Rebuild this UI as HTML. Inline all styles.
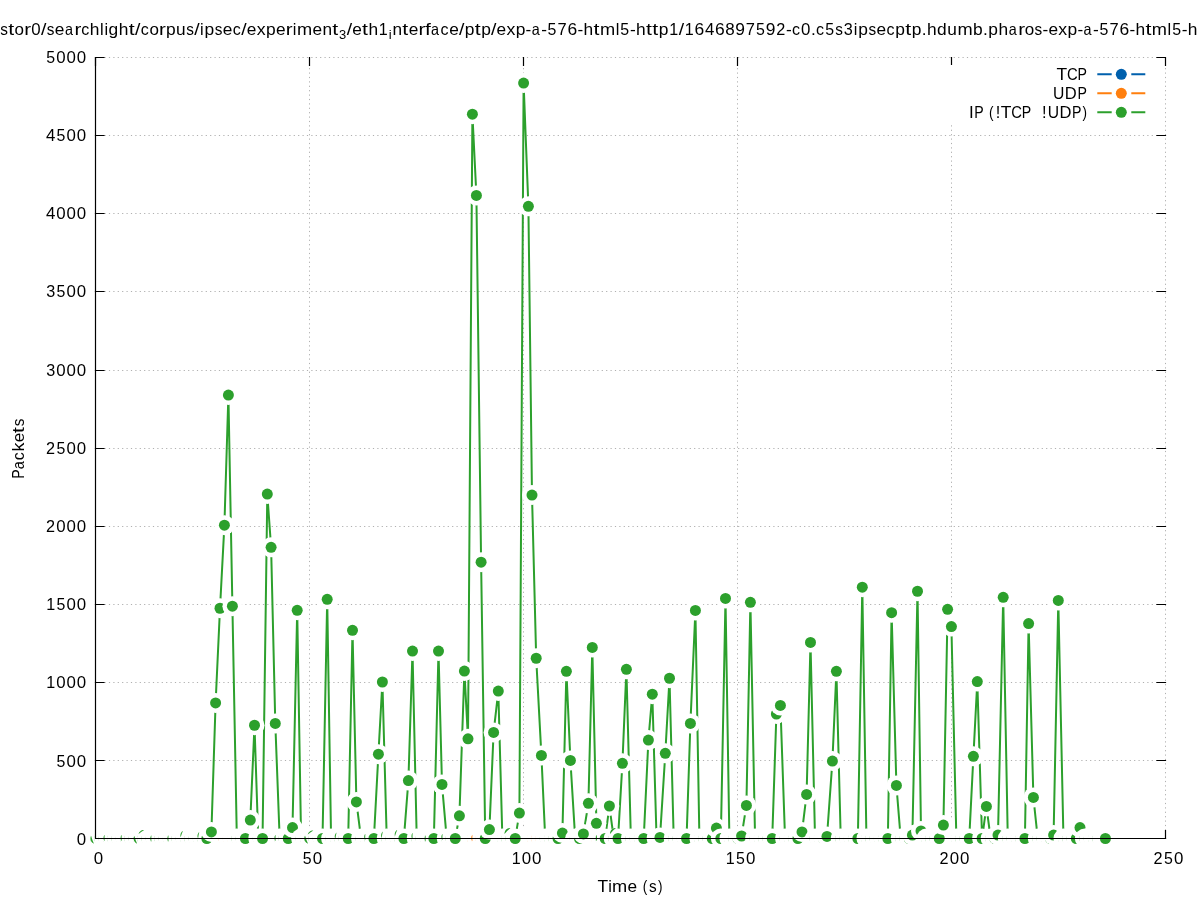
<!DOCTYPE html>
<html><head><meta charset="utf-8"><style>html,body{margin:0;padding:0;background:#fff;overflow:hidden}svg{display:block;will-change:transform}</style></head>
<body><svg width="1197" height="900" viewBox="0 0 1197 900">
<rect width="1197" height="900" fill="#fff"/>
<path d="M104.5,760.50H1165.5M104.5,682.50H1165.5M104.5,604.50H1165.5M104.5,526.50H1165.5M104.5,448.50H1165.5M104.5,370.50H1165.5M104.5,291.50H1165.5M104.5,213.50H1165.5M104.5,135.50H1165.5M104.5,57.50H1165.5M309.50,830.5V57.5M523.50,830.5V57.5M737.50,830.5V57.5M951.50,830.5V57.5M1165.50,830.5V57.5" stroke="#b0b0b0" stroke-width="1" stroke-dasharray="1.2,3.2" fill="none"/>
<path d="M95.5,838.50h8.5M1165.5,838.50h-8.5M95.5,760.50h8.5M1165.5,760.50h-8.5M95.5,682.50h8.5M1165.5,682.50h-8.5M95.5,604.50h8.5M1165.5,604.50h-8.5M95.5,526.50h8.5M1165.5,526.50h-8.5M95.5,448.50h8.5M1165.5,448.50h-8.5M95.5,370.50h8.5M1165.5,370.50h-8.5M95.5,291.50h8.5M1165.5,291.50h-8.5M95.5,213.50h8.5M1165.5,213.50h-8.5M95.5,135.50h8.5M1165.5,135.50h-8.5M95.5,57.50h8.5M1165.5,57.50h-8.5M95.50,838.5v-8M95.50,57.5v8M309.50,838.5v-8M309.50,57.5v8M523.50,838.5v-8M523.50,57.5v8M737.50,838.5v-8M737.50,57.5v8M951.50,838.5v-8M951.50,57.5v8M1165.50,838.5v-8M1165.50,57.5v8" stroke="#000" stroke-width="1.2" fill="none" stroke-linecap="square"/>
<circle cx="95.50" cy="838.50" r="10" fill="#fff"/><circle cx="95.50" cy="838.50" r="5.5" fill="#ff7f0e"/><circle cx="99.78" cy="838.50" r="10" fill="#fff"/><circle cx="99.78" cy="838.50" r="5.5" fill="#ff7f0e"/><circle cx="104.07" cy="838.50" r="10" fill="#fff"/><circle cx="104.07" cy="838.50" r="5.5" fill="#ff7f0e"/><circle cx="108.35" cy="838.50" r="10" fill="#fff"/><circle cx="108.35" cy="838.50" r="5.5" fill="#ff7f0e"/><circle cx="112.63" cy="838.50" r="10" fill="#fff"/><circle cx="112.63" cy="838.50" r="5.5" fill="#ff7f0e"/><circle cx="116.92" cy="838.50" r="10" fill="#fff"/><circle cx="116.92" cy="838.50" r="5.5" fill="#ff7f0e"/><circle cx="121.20" cy="838.50" r="10" fill="#fff"/><circle cx="121.20" cy="838.50" r="5.5" fill="#ff7f0e"/><circle cx="125.48" cy="838.50" r="10" fill="#fff"/><circle cx="125.48" cy="838.50" r="5.5" fill="#ff7f0e"/><circle cx="129.76" cy="838.50" r="10" fill="#fff"/><circle cx="129.76" cy="838.50" r="5.5" fill="#ff7f0e"/><circle cx="134.05" cy="838.50" r="10" fill="#fff"/><circle cx="134.05" cy="838.50" r="5.5" fill="#ff7f0e"/><circle cx="138.33" cy="838.50" r="10" fill="#fff"/><circle cx="138.33" cy="838.50" r="5.5" fill="#ff7f0e"/><circle cx="142.61" cy="838.50" r="10" fill="#fff"/><circle cx="142.61" cy="838.50" r="5.5" fill="#ff7f0e"/><circle cx="146.90" cy="838.50" r="10" fill="#fff"/><circle cx="146.90" cy="838.50" r="5.5" fill="#ff7f0e"/><circle cx="151.18" cy="838.50" r="10" fill="#fff"/><circle cx="151.18" cy="838.50" r="5.5" fill="#ff7f0e"/><circle cx="155.46" cy="838.50" r="10" fill="#fff"/><circle cx="155.46" cy="838.50" r="5.5" fill="#ff7f0e"/><circle cx="159.75" cy="838.50" r="10" fill="#fff"/><circle cx="159.75" cy="838.50" r="5.5" fill="#ff7f0e"/><circle cx="164.03" cy="838.50" r="10" fill="#fff"/><circle cx="164.03" cy="838.50" r="5.5" fill="#ff7f0e"/><circle cx="168.31" cy="838.50" r="10" fill="#fff"/><circle cx="168.31" cy="838.50" r="5.5" fill="#ff7f0e"/><circle cx="172.59" cy="838.50" r="10" fill="#fff"/><circle cx="172.59" cy="838.50" r="5.5" fill="#ff7f0e"/><circle cx="176.88" cy="838.50" r="10" fill="#fff"/><circle cx="176.88" cy="838.50" r="5.5" fill="#ff7f0e"/><circle cx="181.16" cy="838.50" r="10" fill="#fff"/><circle cx="181.16" cy="838.50" r="5.5" fill="#ff7f0e"/><circle cx="185.44" cy="838.50" r="10" fill="#fff"/><circle cx="185.44" cy="838.50" r="5.5" fill="#ff7f0e"/><circle cx="189.73" cy="838.50" r="10" fill="#fff"/><circle cx="189.73" cy="838.50" r="5.5" fill="#ff7f0e"/><circle cx="194.01" cy="838.50" r="10" fill="#fff"/><circle cx="194.01" cy="838.50" r="5.5" fill="#ff7f0e"/><circle cx="198.29" cy="838.50" r="10" fill="#fff"/><circle cx="198.29" cy="838.50" r="5.5" fill="#ff7f0e"/><circle cx="202.57" cy="838.50" r="10" fill="#fff"/><circle cx="202.57" cy="838.50" r="5.5" fill="#ff7f0e"/><circle cx="206.86" cy="838.50" r="10" fill="#fff"/><circle cx="206.86" cy="838.50" r="5.5" fill="#ff7f0e"/><circle cx="211.14" cy="838.50" r="10" fill="#fff"/><circle cx="211.14" cy="838.50" r="5.5" fill="#ff7f0e"/><circle cx="215.42" cy="838.50" r="10" fill="#fff"/><circle cx="215.42" cy="838.50" r="5.5" fill="#ff7f0e"/><circle cx="219.71" cy="838.50" r="10" fill="#fff"/><circle cx="219.71" cy="838.50" r="5.5" fill="#ff7f0e"/><circle cx="223.99" cy="838.50" r="10" fill="#fff"/><circle cx="223.99" cy="838.50" r="5.5" fill="#ff7f0e"/><circle cx="228.27" cy="838.50" r="10" fill="#fff"/><circle cx="228.27" cy="838.50" r="5.5" fill="#ff7f0e"/><circle cx="232.56" cy="838.50" r="10" fill="#fff"/><circle cx="232.56" cy="838.50" r="5.5" fill="#ff7f0e"/><circle cx="236.84" cy="838.50" r="10" fill="#fff"/><circle cx="236.84" cy="838.50" r="5.5" fill="#ff7f0e"/><circle cx="241.12" cy="838.50" r="10" fill="#fff"/><circle cx="241.12" cy="838.50" r="5.5" fill="#ff7f0e"/><circle cx="245.41" cy="838.50" r="10" fill="#fff"/><circle cx="245.41" cy="838.50" r="5.5" fill="#ff7f0e"/><circle cx="249.69" cy="838.50" r="10" fill="#fff"/><circle cx="249.69" cy="838.50" r="5.5" fill="#ff7f0e"/><circle cx="253.97" cy="838.50" r="10" fill="#fff"/><circle cx="253.97" cy="838.50" r="5.5" fill="#ff7f0e"/><circle cx="258.25" cy="838.50" r="10" fill="#fff"/><circle cx="258.25" cy="838.50" r="5.5" fill="#ff7f0e"/><circle cx="262.54" cy="838.50" r="10" fill="#fff"/><circle cx="262.54" cy="838.50" r="5.5" fill="#ff7f0e"/><circle cx="266.82" cy="838.50" r="10" fill="#fff"/><circle cx="266.82" cy="838.50" r="5.5" fill="#ff7f0e"/><circle cx="271.10" cy="838.50" r="10" fill="#fff"/><circle cx="271.10" cy="838.50" r="5.5" fill="#ff7f0e"/><circle cx="275.39" cy="838.50" r="10" fill="#fff"/><circle cx="275.39" cy="838.50" r="5.5" fill="#ff7f0e"/><circle cx="279.67" cy="838.50" r="10" fill="#fff"/><circle cx="279.67" cy="838.50" r="5.5" fill="#ff7f0e"/><circle cx="283.95" cy="838.50" r="10" fill="#fff"/><circle cx="283.95" cy="838.50" r="5.5" fill="#ff7f0e"/><circle cx="288.24" cy="838.50" r="10" fill="#fff"/><circle cx="288.24" cy="838.50" r="5.5" fill="#ff7f0e"/><circle cx="292.52" cy="838.50" r="10" fill="#fff"/><circle cx="292.52" cy="838.50" r="5.5" fill="#ff7f0e"/><circle cx="296.80" cy="838.50" r="10" fill="#fff"/><circle cx="296.80" cy="838.50" r="5.5" fill="#ff7f0e"/><circle cx="301.08" cy="838.50" r="10" fill="#fff"/><circle cx="301.08" cy="838.50" r="5.5" fill="#ff7f0e"/><circle cx="305.37" cy="838.50" r="10" fill="#fff"/><circle cx="305.37" cy="838.50" r="5.5" fill="#ff7f0e"/><circle cx="309.65" cy="838.50" r="10" fill="#fff"/><circle cx="309.65" cy="838.50" r="5.5" fill="#ff7f0e"/><circle cx="313.93" cy="838.50" r="10" fill="#fff"/><circle cx="313.93" cy="838.50" r="5.5" fill="#ff7f0e"/><circle cx="318.22" cy="838.50" r="10" fill="#fff"/><circle cx="318.22" cy="838.50" r="5.5" fill="#ff7f0e"/><circle cx="322.50" cy="838.50" r="10" fill="#fff"/><circle cx="322.50" cy="838.50" r="5.5" fill="#ff7f0e"/><circle cx="326.78" cy="838.50" r="10" fill="#fff"/><circle cx="326.78" cy="838.50" r="5.5" fill="#ff7f0e"/><circle cx="331.07" cy="838.50" r="10" fill="#fff"/><circle cx="331.07" cy="838.50" r="5.5" fill="#ff7f0e"/><circle cx="335.35" cy="838.50" r="10" fill="#fff"/><circle cx="335.35" cy="838.50" r="5.5" fill="#ff7f0e"/><circle cx="339.63" cy="838.50" r="10" fill="#fff"/><circle cx="339.63" cy="838.50" r="5.5" fill="#ff7f0e"/><circle cx="343.91" cy="838.50" r="10" fill="#fff"/><circle cx="343.91" cy="838.50" r="5.5" fill="#ff7f0e"/><circle cx="348.20" cy="838.50" r="10" fill="#fff"/><circle cx="348.20" cy="838.50" r="5.5" fill="#ff7f0e"/><circle cx="352.48" cy="838.50" r="10" fill="#fff"/><circle cx="352.48" cy="838.50" r="5.5" fill="#ff7f0e"/><circle cx="356.76" cy="838.50" r="10" fill="#fff"/><circle cx="356.76" cy="838.50" r="5.5" fill="#ff7f0e"/><circle cx="361.05" cy="838.50" r="10" fill="#fff"/><circle cx="361.05" cy="838.50" r="5.5" fill="#ff7f0e"/><circle cx="365.33" cy="838.50" r="10" fill="#fff"/><circle cx="365.33" cy="838.50" r="5.5" fill="#ff7f0e"/><circle cx="369.61" cy="838.50" r="10" fill="#fff"/><circle cx="369.61" cy="838.50" r="5.5" fill="#ff7f0e"/><circle cx="373.90" cy="838.50" r="10" fill="#fff"/><circle cx="373.90" cy="838.50" r="5.5" fill="#ff7f0e"/><circle cx="378.18" cy="838.50" r="10" fill="#fff"/><circle cx="378.18" cy="838.50" r="5.5" fill="#ff7f0e"/><circle cx="382.46" cy="838.50" r="10" fill="#fff"/><circle cx="382.46" cy="838.50" r="5.5" fill="#ff7f0e"/><circle cx="386.74" cy="838.50" r="10" fill="#fff"/><circle cx="386.74" cy="838.50" r="5.5" fill="#ff7f0e"/><circle cx="391.03" cy="838.50" r="10" fill="#fff"/><circle cx="391.03" cy="838.50" r="5.5" fill="#ff7f0e"/><circle cx="395.31" cy="838.50" r="10" fill="#fff"/><circle cx="395.31" cy="838.50" r="5.5" fill="#ff7f0e"/><circle cx="399.59" cy="838.50" r="10" fill="#fff"/><circle cx="399.59" cy="838.50" r="5.5" fill="#ff7f0e"/><circle cx="403.88" cy="838.50" r="10" fill="#fff"/><circle cx="403.88" cy="838.50" r="5.5" fill="#ff7f0e"/><circle cx="408.16" cy="838.50" r="10" fill="#fff"/><circle cx="408.16" cy="838.50" r="5.5" fill="#ff7f0e"/><circle cx="412.44" cy="838.50" r="10" fill="#fff"/><circle cx="412.44" cy="838.50" r="5.5" fill="#ff7f0e"/><circle cx="416.73" cy="838.50" r="10" fill="#fff"/><circle cx="416.73" cy="838.50" r="5.5" fill="#ff7f0e"/><circle cx="421.01" cy="838.50" r="10" fill="#fff"/><circle cx="421.01" cy="838.50" r="5.5" fill="#ff7f0e"/><circle cx="425.29" cy="838.50" r="10" fill="#fff"/><circle cx="425.29" cy="838.50" r="5.5" fill="#ff7f0e"/><circle cx="429.57" cy="838.50" r="10" fill="#fff"/><circle cx="429.57" cy="838.50" r="5.5" fill="#ff7f0e"/><circle cx="433.86" cy="838.50" r="10" fill="#fff"/><circle cx="433.86" cy="838.50" r="5.5" fill="#ff7f0e"/><circle cx="438.14" cy="838.50" r="10" fill="#fff"/><circle cx="438.14" cy="838.50" r="5.5" fill="#ff7f0e"/><circle cx="442.42" cy="838.50" r="10" fill="#fff"/><circle cx="442.42" cy="838.50" r="5.5" fill="#ff7f0e"/><circle cx="446.71" cy="838.50" r="10" fill="#fff"/><circle cx="446.71" cy="838.50" r="5.5" fill="#ff7f0e"/><circle cx="450.99" cy="838.50" r="10" fill="#fff"/><circle cx="450.99" cy="838.50" r="5.5" fill="#ff7f0e"/><circle cx="455.27" cy="838.50" r="10" fill="#fff"/><circle cx="455.27" cy="838.50" r="5.5" fill="#ff7f0e"/><circle cx="459.56" cy="838.50" r="10" fill="#fff"/><circle cx="459.56" cy="838.50" r="5.5" fill="#ff7f0e"/><circle cx="463.84" cy="838.50" r="10" fill="#fff"/><circle cx="463.84" cy="838.50" r="5.5" fill="#ff7f0e"/><circle cx="468.12" cy="838.50" r="10" fill="#fff"/><circle cx="468.12" cy="838.50" r="5.5" fill="#ff7f0e"/><circle cx="472.40" cy="838.50" r="10" fill="#fff"/><circle cx="472.40" cy="838.50" r="5.5" fill="#ff7f0e"/><circle cx="476.69" cy="838.50" r="10" fill="#fff"/><circle cx="476.69" cy="838.50" r="5.5" fill="#ff7f0e"/><circle cx="480.97" cy="838.50" r="10" fill="#fff"/><circle cx="480.97" cy="838.50" r="5.5" fill="#ff7f0e"/><circle cx="485.25" cy="838.50" r="10" fill="#fff"/><circle cx="485.25" cy="838.50" r="5.5" fill="#ff7f0e"/><circle cx="489.54" cy="838.50" r="10" fill="#fff"/><circle cx="489.54" cy="838.50" r="5.5" fill="#ff7f0e"/><circle cx="493.82" cy="838.50" r="10" fill="#fff"/><circle cx="493.82" cy="838.50" r="5.5" fill="#ff7f0e"/><circle cx="498.10" cy="838.50" r="10" fill="#fff"/><circle cx="498.10" cy="838.50" r="5.5" fill="#ff7f0e"/><circle cx="502.39" cy="838.50" r="10" fill="#fff"/><circle cx="502.39" cy="838.50" r="5.5" fill="#ff7f0e"/><circle cx="506.67" cy="838.50" r="10" fill="#fff"/><circle cx="506.67" cy="838.50" r="5.5" fill="#ff7f0e"/><circle cx="510.95" cy="838.50" r="10" fill="#fff"/><circle cx="510.95" cy="838.50" r="5.5" fill="#ff7f0e"/><circle cx="515.23" cy="838.50" r="10" fill="#fff"/><circle cx="515.23" cy="838.50" r="5.5" fill="#ff7f0e"/><circle cx="519.52" cy="838.50" r="10" fill="#fff"/><circle cx="519.52" cy="838.50" r="5.5" fill="#ff7f0e"/><circle cx="523.80" cy="838.50" r="10" fill="#fff"/><circle cx="523.80" cy="838.50" r="5.5" fill="#ff7f0e"/><circle cx="528.08" cy="838.50" r="10" fill="#fff"/><circle cx="528.08" cy="838.50" r="5.5" fill="#ff7f0e"/><circle cx="532.37" cy="838.50" r="10" fill="#fff"/><circle cx="532.37" cy="838.50" r="5.5" fill="#ff7f0e"/><circle cx="536.65" cy="838.50" r="10" fill="#fff"/><circle cx="536.65" cy="838.50" r="5.5" fill="#ff7f0e"/><circle cx="540.93" cy="838.50" r="10" fill="#fff"/><circle cx="540.93" cy="838.50" r="5.5" fill="#ff7f0e"/><circle cx="545.22" cy="838.50" r="10" fill="#fff"/><circle cx="545.22" cy="838.50" r="5.5" fill="#ff7f0e"/><circle cx="549.50" cy="838.50" r="10" fill="#fff"/><circle cx="549.50" cy="838.50" r="5.5" fill="#ff7f0e"/><circle cx="553.78" cy="838.50" r="10" fill="#fff"/><circle cx="553.78" cy="838.50" r="5.5" fill="#ff7f0e"/><circle cx="558.06" cy="838.50" r="10" fill="#fff"/><circle cx="558.06" cy="838.50" r="5.5" fill="#ff7f0e"/><circle cx="562.35" cy="838.50" r="10" fill="#fff"/><circle cx="562.35" cy="838.50" r="5.5" fill="#ff7f0e"/><circle cx="566.63" cy="838.50" r="10" fill="#fff"/><circle cx="566.63" cy="838.50" r="5.5" fill="#ff7f0e"/><circle cx="570.91" cy="838.50" r="10" fill="#fff"/><circle cx="570.91" cy="838.50" r="5.5" fill="#ff7f0e"/><circle cx="575.20" cy="838.50" r="10" fill="#fff"/><circle cx="575.20" cy="838.50" r="5.5" fill="#ff7f0e"/><circle cx="579.48" cy="838.50" r="10" fill="#fff"/><circle cx="579.48" cy="838.50" r="5.5" fill="#ff7f0e"/><circle cx="583.76" cy="838.50" r="10" fill="#fff"/><circle cx="583.76" cy="838.50" r="5.5" fill="#ff7f0e"/><circle cx="588.05" cy="838.50" r="10" fill="#fff"/><circle cx="588.05" cy="838.50" r="5.5" fill="#ff7f0e"/><circle cx="592.33" cy="838.50" r="10" fill="#fff"/><circle cx="592.33" cy="838.50" r="5.5" fill="#ff7f0e"/><circle cx="596.61" cy="838.50" r="10" fill="#fff"/><circle cx="596.61" cy="838.50" r="5.5" fill="#ff7f0e"/><circle cx="600.89" cy="838.50" r="10" fill="#fff"/><circle cx="600.89" cy="838.50" r="5.5" fill="#ff7f0e"/><circle cx="605.18" cy="838.50" r="10" fill="#fff"/><circle cx="605.18" cy="838.50" r="5.5" fill="#ff7f0e"/><circle cx="609.46" cy="838.50" r="10" fill="#fff"/><circle cx="609.46" cy="838.50" r="5.5" fill="#ff7f0e"/><circle cx="613.74" cy="838.50" r="10" fill="#fff"/><circle cx="613.74" cy="838.50" r="5.5" fill="#ff7f0e"/><circle cx="618.03" cy="838.50" r="10" fill="#fff"/><circle cx="618.03" cy="838.50" r="5.5" fill="#ff7f0e"/><circle cx="622.31" cy="838.50" r="10" fill="#fff"/><circle cx="622.31" cy="838.50" r="5.5" fill="#ff7f0e"/><circle cx="626.59" cy="838.50" r="10" fill="#fff"/><circle cx="626.59" cy="838.50" r="5.5" fill="#ff7f0e"/><circle cx="630.88" cy="838.50" r="10" fill="#fff"/><circle cx="630.88" cy="838.50" r="5.5" fill="#ff7f0e"/><circle cx="635.16" cy="838.50" r="10" fill="#fff"/><circle cx="635.16" cy="838.50" r="5.5" fill="#ff7f0e"/><circle cx="639.44" cy="838.50" r="10" fill="#fff"/><circle cx="639.44" cy="838.50" r="5.5" fill="#ff7f0e"/><circle cx="643.72" cy="838.50" r="10" fill="#fff"/><circle cx="643.72" cy="838.50" r="5.5" fill="#ff7f0e"/><circle cx="648.01" cy="838.50" r="10" fill="#fff"/><circle cx="648.01" cy="838.50" r="5.5" fill="#ff7f0e"/><circle cx="652.29" cy="838.50" r="10" fill="#fff"/><circle cx="652.29" cy="838.50" r="5.5" fill="#ff7f0e"/><circle cx="656.57" cy="838.50" r="10" fill="#fff"/><circle cx="656.57" cy="838.50" r="5.5" fill="#ff7f0e"/><circle cx="660.86" cy="838.50" r="10" fill="#fff"/><circle cx="660.86" cy="838.50" r="5.5" fill="#ff7f0e"/><circle cx="665.14" cy="838.50" r="10" fill="#fff"/><circle cx="665.14" cy="838.50" r="5.5" fill="#ff7f0e"/><circle cx="669.42" cy="838.50" r="10" fill="#fff"/><circle cx="669.42" cy="838.50" r="5.5" fill="#ff7f0e"/><circle cx="673.71" cy="838.50" r="10" fill="#fff"/><circle cx="673.71" cy="838.50" r="5.5" fill="#ff7f0e"/><circle cx="677.99" cy="838.50" r="10" fill="#fff"/><circle cx="677.99" cy="838.50" r="5.5" fill="#ff7f0e"/><circle cx="682.27" cy="838.50" r="10" fill="#fff"/><circle cx="682.27" cy="838.50" r="5.5" fill="#ff7f0e"/><circle cx="686.55" cy="838.50" r="10" fill="#fff"/><circle cx="686.55" cy="838.50" r="5.5" fill="#ff7f0e"/><circle cx="690.84" cy="838.50" r="10" fill="#fff"/><circle cx="690.84" cy="838.50" r="5.5" fill="#ff7f0e"/><circle cx="695.12" cy="838.50" r="10" fill="#fff"/><circle cx="695.12" cy="838.50" r="5.5" fill="#ff7f0e"/><circle cx="699.40" cy="838.50" r="10" fill="#fff"/><circle cx="699.40" cy="838.50" r="5.5" fill="#ff7f0e"/><circle cx="703.69" cy="838.50" r="10" fill="#fff"/><circle cx="703.69" cy="838.50" r="5.5" fill="#ff7f0e"/><circle cx="707.97" cy="838.50" r="10" fill="#fff"/><circle cx="707.97" cy="838.50" r="5.5" fill="#ff7f0e"/><circle cx="712.25" cy="838.50" r="10" fill="#fff"/><circle cx="712.25" cy="838.50" r="5.5" fill="#ff7f0e"/><circle cx="716.54" cy="838.50" r="10" fill="#fff"/><circle cx="716.54" cy="838.50" r="5.5" fill="#ff7f0e"/><circle cx="720.82" cy="838.50" r="10" fill="#fff"/><circle cx="720.82" cy="838.50" r="5.5" fill="#ff7f0e"/><circle cx="725.10" cy="838.50" r="10" fill="#fff"/><circle cx="725.10" cy="838.50" r="5.5" fill="#ff7f0e"/><circle cx="729.38" cy="838.50" r="10" fill="#fff"/><circle cx="729.38" cy="838.50" r="5.5" fill="#ff7f0e"/><circle cx="733.67" cy="838.50" r="10" fill="#fff"/><circle cx="733.67" cy="838.50" r="5.5" fill="#ff7f0e"/><circle cx="737.95" cy="838.50" r="10" fill="#fff"/><circle cx="737.95" cy="838.50" r="5.5" fill="#ff7f0e"/><circle cx="742.23" cy="838.50" r="10" fill="#fff"/><circle cx="742.23" cy="838.50" r="5.5" fill="#ff7f0e"/><circle cx="746.52" cy="838.50" r="10" fill="#fff"/><circle cx="746.52" cy="838.50" r="5.5" fill="#ff7f0e"/><circle cx="750.80" cy="838.50" r="10" fill="#fff"/><circle cx="750.80" cy="838.50" r="5.5" fill="#ff7f0e"/><circle cx="755.08" cy="838.50" r="10" fill="#fff"/><circle cx="755.08" cy="838.50" r="5.5" fill="#ff7f0e"/><circle cx="759.37" cy="838.50" r="10" fill="#fff"/><circle cx="759.37" cy="838.50" r="5.5" fill="#ff7f0e"/><circle cx="763.65" cy="838.50" r="10" fill="#fff"/><circle cx="763.65" cy="838.50" r="5.5" fill="#ff7f0e"/><circle cx="767.93" cy="838.50" r="10" fill="#fff"/><circle cx="767.93" cy="838.50" r="5.5" fill="#ff7f0e"/><circle cx="772.21" cy="838.50" r="10" fill="#fff"/><circle cx="772.21" cy="838.50" r="5.5" fill="#ff7f0e"/><circle cx="776.50" cy="838.50" r="10" fill="#fff"/><circle cx="776.50" cy="838.50" r="5.5" fill="#ff7f0e"/><circle cx="780.78" cy="838.50" r="10" fill="#fff"/><circle cx="780.78" cy="838.50" r="5.5" fill="#ff7f0e"/><circle cx="785.06" cy="838.50" r="10" fill="#fff"/><circle cx="785.06" cy="838.50" r="5.5" fill="#ff7f0e"/><circle cx="789.35" cy="838.50" r="10" fill="#fff"/><circle cx="789.35" cy="838.50" r="5.5" fill="#ff7f0e"/><circle cx="793.63" cy="838.50" r="10" fill="#fff"/><circle cx="793.63" cy="838.50" r="5.5" fill="#ff7f0e"/><circle cx="797.91" cy="838.50" r="10" fill="#fff"/><circle cx="797.91" cy="838.50" r="5.5" fill="#ff7f0e"/><circle cx="802.20" cy="838.50" r="10" fill="#fff"/><circle cx="802.20" cy="838.50" r="5.5" fill="#ff7f0e"/><circle cx="806.48" cy="838.50" r="10" fill="#fff"/><circle cx="806.48" cy="838.50" r="5.5" fill="#ff7f0e"/><circle cx="810.76" cy="838.50" r="10" fill="#fff"/><circle cx="810.76" cy="838.50" r="5.5" fill="#ff7f0e"/><circle cx="815.04" cy="838.50" r="10" fill="#fff"/><circle cx="815.04" cy="838.50" r="5.5" fill="#ff7f0e"/><circle cx="819.33" cy="838.50" r="10" fill="#fff"/><circle cx="819.33" cy="838.50" r="5.5" fill="#ff7f0e"/><circle cx="823.61" cy="838.50" r="10" fill="#fff"/><circle cx="823.61" cy="838.50" r="5.5" fill="#ff7f0e"/><circle cx="827.89" cy="838.50" r="10" fill="#fff"/><circle cx="827.89" cy="838.50" r="5.5" fill="#ff7f0e"/><circle cx="832.18" cy="838.50" r="10" fill="#fff"/><circle cx="832.18" cy="838.50" r="5.5" fill="#ff7f0e"/><circle cx="836.46" cy="838.50" r="10" fill="#fff"/><circle cx="836.46" cy="838.50" r="5.5" fill="#ff7f0e"/><circle cx="840.74" cy="838.50" r="10" fill="#fff"/><circle cx="840.74" cy="838.50" r="5.5" fill="#ff7f0e"/><circle cx="845.03" cy="838.50" r="10" fill="#fff"/><circle cx="845.03" cy="838.50" r="5.5" fill="#ff7f0e"/><circle cx="849.31" cy="838.50" r="10" fill="#fff"/><circle cx="849.31" cy="838.50" r="5.5" fill="#ff7f0e"/><circle cx="853.59" cy="838.50" r="10" fill="#fff"/><circle cx="853.59" cy="838.50" r="5.5" fill="#ff7f0e"/><circle cx="857.87" cy="838.50" r="10" fill="#fff"/><circle cx="857.87" cy="838.50" r="5.5" fill="#ff7f0e"/><circle cx="862.16" cy="838.50" r="10" fill="#fff"/><circle cx="862.16" cy="838.50" r="5.5" fill="#ff7f0e"/><circle cx="866.44" cy="838.50" r="10" fill="#fff"/><circle cx="866.44" cy="838.50" r="5.5" fill="#ff7f0e"/><circle cx="870.72" cy="838.50" r="10" fill="#fff"/><circle cx="870.72" cy="838.50" r="5.5" fill="#ff7f0e"/><circle cx="875.01" cy="838.50" r="10" fill="#fff"/><circle cx="875.01" cy="838.50" r="5.5" fill="#ff7f0e"/><circle cx="879.29" cy="838.50" r="10" fill="#fff"/><circle cx="879.29" cy="838.50" r="5.5" fill="#ff7f0e"/><circle cx="883.57" cy="838.50" r="10" fill="#fff"/><circle cx="883.57" cy="838.50" r="5.5" fill="#ff7f0e"/><circle cx="887.86" cy="838.50" r="10" fill="#fff"/><circle cx="887.86" cy="838.50" r="5.5" fill="#ff7f0e"/><circle cx="892.14" cy="838.50" r="10" fill="#fff"/><circle cx="892.14" cy="838.50" r="5.5" fill="#ff7f0e"/><circle cx="896.42" cy="838.50" r="10" fill="#fff"/><circle cx="896.42" cy="838.50" r="5.5" fill="#ff7f0e"/><circle cx="900.70" cy="838.50" r="10" fill="#fff"/><circle cx="900.70" cy="838.50" r="5.5" fill="#ff7f0e"/><circle cx="904.99" cy="838.50" r="10" fill="#fff"/><circle cx="904.99" cy="838.50" r="5.5" fill="#ff7f0e"/><circle cx="909.27" cy="838.50" r="10" fill="#fff"/><circle cx="909.27" cy="838.50" r="5.5" fill="#ff7f0e"/><circle cx="913.55" cy="838.50" r="10" fill="#fff"/><circle cx="913.55" cy="838.50" r="5.5" fill="#ff7f0e"/><circle cx="917.84" cy="838.50" r="10" fill="#fff"/><circle cx="917.84" cy="838.50" r="5.5" fill="#ff7f0e"/><circle cx="922.12" cy="838.50" r="10" fill="#fff"/><circle cx="922.12" cy="838.50" r="5.5" fill="#ff7f0e"/><circle cx="926.40" cy="838.50" r="10" fill="#fff"/><circle cx="926.40" cy="838.50" r="5.5" fill="#ff7f0e"/><circle cx="930.69" cy="838.50" r="10" fill="#fff"/><circle cx="930.69" cy="838.50" r="5.5" fill="#ff7f0e"/><circle cx="934.97" cy="838.50" r="10" fill="#fff"/><circle cx="934.97" cy="838.50" r="5.5" fill="#ff7f0e"/><circle cx="939.25" cy="838.50" r="10" fill="#fff"/><circle cx="939.25" cy="838.50" r="5.5" fill="#ff7f0e"/><circle cx="943.53" cy="838.50" r="10" fill="#fff"/><circle cx="943.53" cy="838.50" r="5.5" fill="#ff7f0e"/><circle cx="947.82" cy="838.50" r="10" fill="#fff"/><circle cx="947.82" cy="838.50" r="5.5" fill="#ff7f0e"/><circle cx="952.10" cy="838.50" r="10" fill="#fff"/><circle cx="952.10" cy="838.50" r="5.5" fill="#ff7f0e"/><circle cx="956.38" cy="838.50" r="10" fill="#fff"/><circle cx="956.38" cy="838.50" r="5.5" fill="#ff7f0e"/><circle cx="960.67" cy="838.50" r="10" fill="#fff"/><circle cx="960.67" cy="838.50" r="5.5" fill="#ff7f0e"/><circle cx="964.95" cy="838.50" r="10" fill="#fff"/><circle cx="964.95" cy="838.50" r="5.5" fill="#ff7f0e"/><circle cx="969.23" cy="838.50" r="10" fill="#fff"/><circle cx="969.23" cy="838.50" r="5.5" fill="#ff7f0e"/><circle cx="973.52" cy="838.50" r="10" fill="#fff"/><circle cx="973.52" cy="838.50" r="5.5" fill="#ff7f0e"/><circle cx="977.80" cy="838.50" r="10" fill="#fff"/><circle cx="977.80" cy="838.50" r="5.5" fill="#ff7f0e"/><circle cx="982.08" cy="838.50" r="10" fill="#fff"/><circle cx="982.08" cy="838.50" r="5.5" fill="#ff7f0e"/><circle cx="986.36" cy="838.50" r="10" fill="#fff"/><circle cx="986.36" cy="838.50" r="5.5" fill="#ff7f0e"/><circle cx="990.65" cy="838.50" r="10" fill="#fff"/><circle cx="990.65" cy="838.50" r="5.5" fill="#ff7f0e"/><circle cx="994.93" cy="838.50" r="10" fill="#fff"/><circle cx="994.93" cy="838.50" r="5.5" fill="#ff7f0e"/><circle cx="999.21" cy="838.50" r="10" fill="#fff"/><circle cx="999.21" cy="838.50" r="5.5" fill="#ff7f0e"/><circle cx="1003.50" cy="838.50" r="10" fill="#fff"/><circle cx="1003.50" cy="838.50" r="5.5" fill="#ff7f0e"/><circle cx="1007.78" cy="838.50" r="10" fill="#fff"/><circle cx="1007.78" cy="838.50" r="5.5" fill="#ff7f0e"/><circle cx="1012.06" cy="838.50" r="10" fill="#fff"/><circle cx="1012.06" cy="838.50" r="5.5" fill="#ff7f0e"/><circle cx="1016.35" cy="838.50" r="10" fill="#fff"/><circle cx="1016.35" cy="838.50" r="5.5" fill="#ff7f0e"/><circle cx="1020.63" cy="838.50" r="10" fill="#fff"/><circle cx="1020.63" cy="838.50" r="5.5" fill="#ff7f0e"/><circle cx="1024.91" cy="838.50" r="10" fill="#fff"/><circle cx="1024.91" cy="838.50" r="5.5" fill="#ff7f0e"/><circle cx="1029.19" cy="838.50" r="10" fill="#fff"/><circle cx="1029.19" cy="838.50" r="5.5" fill="#ff7f0e"/><circle cx="1033.48" cy="838.50" r="10" fill="#fff"/><circle cx="1033.48" cy="838.50" r="5.5" fill="#ff7f0e"/><circle cx="1037.76" cy="838.50" r="10" fill="#fff"/><circle cx="1037.76" cy="838.50" r="5.5" fill="#ff7f0e"/><circle cx="1042.04" cy="838.50" r="10" fill="#fff"/><circle cx="1042.04" cy="838.50" r="5.5" fill="#ff7f0e"/><circle cx="1046.33" cy="838.50" r="10" fill="#fff"/><circle cx="1046.33" cy="838.50" r="5.5" fill="#ff7f0e"/><circle cx="1050.61" cy="838.50" r="10" fill="#fff"/><circle cx="1050.61" cy="838.50" r="5.5" fill="#ff7f0e"/><circle cx="1054.89" cy="838.50" r="10" fill="#fff"/><circle cx="1054.89" cy="838.50" r="5.5" fill="#ff7f0e"/><circle cx="1059.18" cy="838.50" r="10" fill="#fff"/><circle cx="1059.18" cy="838.50" r="5.5" fill="#ff7f0e"/><circle cx="1063.46" cy="838.50" r="10" fill="#fff"/><circle cx="1063.46" cy="838.50" r="5.5" fill="#ff7f0e"/><circle cx="1067.74" cy="838.50" r="10" fill="#fff"/><circle cx="1067.74" cy="838.50" r="5.5" fill="#ff7f0e"/><circle cx="1072.02" cy="838.50" r="10" fill="#fff"/><circle cx="1072.02" cy="838.50" r="5.5" fill="#ff7f0e"/><circle cx="1076.31" cy="838.50" r="10" fill="#fff"/><circle cx="1076.31" cy="838.50" r="5.5" fill="#ff7f0e"/><circle cx="1080.59" cy="838.50" r="10" fill="#fff"/><circle cx="1080.59" cy="838.50" r="5.5" fill="#ff7f0e"/><circle cx="1084.87" cy="838.50" r="10" fill="#fff"/><circle cx="1084.87" cy="838.50" r="5.5" fill="#ff7f0e"/><circle cx="1089.16" cy="838.50" r="10" fill="#fff"/><circle cx="1089.16" cy="838.50" r="5.5" fill="#ff7f0e"/><circle cx="1093.44" cy="838.50" r="10" fill="#fff"/><circle cx="1093.44" cy="838.50" r="5.5" fill="#ff7f0e"/><circle cx="1097.72" cy="838.50" r="10" fill="#fff"/><circle cx="1097.72" cy="838.50" r="5.5" fill="#ff7f0e"/><circle cx="1102.01" cy="838.50" r="10" fill="#fff"/><circle cx="1102.01" cy="838.50" r="5.5" fill="#ff7f0e"/><circle cx="1106.29" cy="838.50" r="10" fill="#fff"/><circle cx="1106.29" cy="838.50" r="5.5" fill="#ff7f0e"/>
<path d="M95.50,838.50 L99.78,838.50 L104.07,838.50 L108.35,838.50 L112.63,838.50 L116.92,838.50 L121.20,838.50 L125.48,838.50 L129.76,838.50 L134.05,838.50 L138.33,838.50 L142.61,838.50 L146.90,838.50 L151.18,838.50 L155.46,838.50 L159.75,838.50 L164.03,838.50 L168.31,838.50 L172.59,838.50 L176.88,838.50 L181.16,838.50 L185.44,838.50 L189.73,838.50 L194.01,838.50 L198.29,838.50 L202.57,838.50 L206.86,838.50 L211.40,831.94 L215.60,702.92 L220.00,608.26 L224.40,525.16 L228.40,395.05 L232.40,606.23 L236.84,838.50 L241.12,838.50 L245.41,838.50 L250.30,820.07 L254.50,725.25 L258.25,838.50 L262.54,838.50 L267.30,494.08 L271.10,547.34 L275.30,723.38 L279.67,838.50 L283.95,838.50 L288.24,838.50 L292.50,827.57 L297.20,610.29 L301.08,838.50 L305.37,838.50 L309.65,838.50 L313.93,838.50 L318.22,838.50 L322.50,838.50 L327.20,599.36 L331.07,838.50 L335.35,838.50 L339.63,838.50 L343.91,838.50 L348.20,838.50 L352.50,630.29 L356.40,801.95 L361.05,838.50 L365.33,838.50 L369.61,838.50 L373.90,838.50 L378.40,754.15 L382.40,681.99 L386.74,838.50 L391.03,838.50 L395.31,838.50 L399.59,838.50 L403.88,838.50 L408.40,780.55 L412.50,651.06 L416.73,838.50 L421.01,838.50 L425.29,838.50 L429.57,838.50 L433.86,838.50 L438.50,651.06 L442.00,784.45 L446.71,838.50 L450.99,838.50 L455.27,838.50 L459.40,815.85 L464.40,671.05 L468.00,738.84 L472.40,114.20 L476.40,195.42 L481.10,562.18 L485.25,838.50 L489.40,829.60 L493.60,732.44 L498.30,691.05 L502.39,838.50 L506.67,838.50 L510.95,838.50 L515.23,838.50 L519.40,813.04 L523.60,83.12 L528.40,206.36 L532.00,495.02 L536.20,658.25 L541.40,755.40 L545.22,838.50 L549.50,838.50 L553.78,838.50 L558.06,838.50 L562.40,833.03 L566.40,671.37 L570.40,760.40 L575.20,838.50 L579.48,838.50 L583.40,833.97 L588.40,803.36 L592.30,647.47 L596.40,823.35 L600.89,838.50 L605.18,838.50 L609.40,806.01 L613.74,838.50 L618.03,838.50 L622.40,763.37 L626.40,669.34 L630.88,838.50 L635.16,838.50 L639.44,838.50 L643.72,838.50 L648.40,740.09 L652.30,694.17 L656.57,838.50 L660.00,837.41 L665.30,753.37 L669.50,678.24 L673.71,838.50 L677.99,838.50 L682.27,838.50 L686.55,838.50 L690.40,723.38 L695.40,610.45 L699.40,838.50 L703.69,838.50 L707.97,838.50 L712.25,838.50 L716.40,828.03 L720.82,838.50 L725.50,598.42 L729.38,838.50 L733.67,838.50 L737.95,838.50 L741.60,836.00 L746.40,805.39 L750.40,602.33 L755.08,838.50 L759.37,838.50 L763.65,838.50 L767.93,838.50 L772.21,838.50 L776.40,714.01 L780.40,705.42 L785.06,838.50 L789.35,838.50 L793.63,838.50 L797.91,838.50 L802.00,831.94 L806.60,794.45 L810.50,642.47 L815.04,838.50 L819.33,838.50 L823.61,838.50 L827.00,836.47 L832.40,761.02 L836.40,671.37 L840.74,838.50 L845.03,838.50 L849.31,838.50 L853.59,838.50 L857.87,838.50 L862.30,587.17 L866.44,838.50 L870.72,838.50 L875.01,838.50 L879.29,838.50 L883.57,838.50 L887.86,838.50 L891.60,612.63 L896.40,785.39 L900.70,838.50 L904.99,838.50 L909.27,838.50 L912.40,835.06 L917.50,591.24 L921.00,831.00 L926.40,838.50 L930.69,838.50 L934.97,838.50 L939.25,838.50 L943.40,825.07 L947.60,609.35 L951.40,626.54 L956.38,838.50 L960.67,838.50 L964.95,838.50 L969.23,838.50 L973.40,756.34 L977.30,681.52 L982.08,838.50 L986.40,806.48 L990.65,838.50 L994.93,838.50 L998.00,835.06 L1003.20,597.33 L1007.78,838.50 L1012.06,838.50 L1016.35,838.50 L1020.63,838.50 L1024.91,838.50 L1028.60,623.57 L1033.40,797.42 L1037.76,838.50 L1042.04,838.50 L1046.33,838.50 L1050.61,838.50 L1053.60,835.06 L1058.30,600.45 L1063.46,838.50 L1067.74,838.50 L1072.02,838.50 L1076.31,838.50 L1080.00,827.57 L1084.87,838.50 L1089.16,838.50 L1093.44,838.50 L1097.72,838.50 L1102.01,838.50 L1105.40,838.50" stroke="#2ca02c" stroke-width="2" fill="none" stroke-linejoin="miter"/>
<circle cx="95.50" cy="838.50" r="10" fill="#fff"/><circle cx="95.50" cy="838.50" r="5.5" fill="#2ca02c"/>
<circle cx="99.78" cy="838.50" r="10" fill="#fff"/><circle cx="99.78" cy="838.50" r="5.5" fill="#2ca02c"/>
<circle cx="104.07" cy="838.50" r="10" fill="#fff"/><circle cx="104.07" cy="838.50" r="5.5" fill="#2ca02c"/>
<circle cx="108.35" cy="838.50" r="10" fill="#fff"/><circle cx="108.35" cy="838.50" r="5.5" fill="#2ca02c"/>
<circle cx="112.63" cy="838.50" r="10" fill="#fff"/><circle cx="112.63" cy="838.50" r="5.5" fill="#2ca02c"/>
<circle cx="116.92" cy="838.50" r="10" fill="#fff"/><circle cx="116.92" cy="838.50" r="5.5" fill="#2ca02c"/>
<circle cx="121.20" cy="838.50" r="10" fill="#fff"/><circle cx="121.20" cy="838.50" r="5.5" fill="#2ca02c"/>
<circle cx="125.48" cy="838.50" r="10" fill="#fff"/><circle cx="125.48" cy="838.50" r="5.5" fill="#2ca02c"/>
<circle cx="129.76" cy="838.50" r="10" fill="#fff"/><circle cx="129.76" cy="838.50" r="5.5" fill="#2ca02c"/>
<circle cx="134.05" cy="838.50" r="10" fill="#fff"/><circle cx="134.05" cy="838.50" r="5.5" fill="#2ca02c"/>
<circle cx="138.33" cy="838.50" r="10" fill="#fff"/><circle cx="138.33" cy="838.50" r="5.5" fill="#2ca02c"/>
<circle cx="142.61" cy="838.50" r="10" fill="#fff"/><circle cx="142.61" cy="838.50" r="5.5" fill="#2ca02c"/>
<circle cx="146.90" cy="838.50" r="10" fill="#fff"/><circle cx="146.90" cy="838.50" r="5.5" fill="#2ca02c"/>
<circle cx="151.18" cy="838.50" r="10" fill="#fff"/><circle cx="151.18" cy="838.50" r="5.5" fill="#2ca02c"/>
<circle cx="155.46" cy="838.50" r="10" fill="#fff"/><circle cx="155.46" cy="838.50" r="5.5" fill="#2ca02c"/>
<circle cx="159.75" cy="838.50" r="10" fill="#fff"/><circle cx="159.75" cy="838.50" r="5.5" fill="#2ca02c"/>
<circle cx="164.03" cy="838.50" r="10" fill="#fff"/><circle cx="164.03" cy="838.50" r="5.5" fill="#2ca02c"/>
<circle cx="168.31" cy="838.50" r="10" fill="#fff"/><circle cx="168.31" cy="838.50" r="5.5" fill="#2ca02c"/>
<circle cx="172.59" cy="838.50" r="10" fill="#fff"/><circle cx="172.59" cy="838.50" r="5.5" fill="#2ca02c"/>
<circle cx="176.88" cy="838.50" r="10" fill="#fff"/><circle cx="176.88" cy="838.50" r="5.5" fill="#2ca02c"/>
<circle cx="181.16" cy="838.50" r="10" fill="#fff"/><circle cx="181.16" cy="838.50" r="5.5" fill="#2ca02c"/>
<circle cx="185.44" cy="838.50" r="10" fill="#fff"/><circle cx="185.44" cy="838.50" r="5.5" fill="#2ca02c"/>
<circle cx="189.73" cy="838.50" r="10" fill="#fff"/><circle cx="189.73" cy="838.50" r="5.5" fill="#2ca02c"/>
<circle cx="194.01" cy="838.50" r="10" fill="#fff"/><circle cx="194.01" cy="838.50" r="5.5" fill="#2ca02c"/>
<circle cx="198.29" cy="838.50" r="10" fill="#fff"/><circle cx="198.29" cy="838.50" r="5.5" fill="#2ca02c"/>
<circle cx="202.57" cy="838.50" r="10" fill="#fff"/><circle cx="202.57" cy="838.50" r="5.5" fill="#2ca02c"/>
<circle cx="206.86" cy="838.50" r="10" fill="#fff"/><circle cx="206.86" cy="838.50" r="5.5" fill="#2ca02c"/>
<circle cx="211.40" cy="831.94" r="10" fill="#fff"/><circle cx="211.40" cy="831.94" r="5.5" fill="#2ca02c"/>
<circle cx="215.60" cy="702.92" r="10" fill="#fff"/><circle cx="215.60" cy="702.92" r="5.5" fill="#2ca02c"/>
<circle cx="220.00" cy="608.26" r="10" fill="#fff"/><circle cx="220.00" cy="608.26" r="5.5" fill="#2ca02c"/>
<circle cx="224.40" cy="525.16" r="10" fill="#fff"/><circle cx="224.40" cy="525.16" r="5.5" fill="#2ca02c"/>
<circle cx="228.40" cy="395.05" r="10" fill="#fff"/><circle cx="228.40" cy="395.05" r="5.5" fill="#2ca02c"/>
<circle cx="232.40" cy="606.23" r="10" fill="#fff"/><circle cx="232.40" cy="606.23" r="5.5" fill="#2ca02c"/>
<circle cx="236.84" cy="838.50" r="10" fill="#fff"/><circle cx="236.84" cy="838.50" r="5.5" fill="#2ca02c"/>
<circle cx="241.12" cy="838.50" r="10" fill="#fff"/><circle cx="241.12" cy="838.50" r="5.5" fill="#2ca02c"/>
<circle cx="245.41" cy="838.50" r="10" fill="#fff"/><circle cx="245.41" cy="838.50" r="5.5" fill="#2ca02c"/>
<circle cx="250.30" cy="820.07" r="10" fill="#fff"/><circle cx="250.30" cy="820.07" r="5.5" fill="#2ca02c"/>
<circle cx="254.50" cy="725.25" r="10" fill="#fff"/><circle cx="254.50" cy="725.25" r="5.5" fill="#2ca02c"/>
<circle cx="258.25" cy="838.50" r="10" fill="#fff"/><circle cx="258.25" cy="838.50" r="5.5" fill="#2ca02c"/>
<circle cx="262.54" cy="838.50" r="10" fill="#fff"/><circle cx="262.54" cy="838.50" r="5.5" fill="#2ca02c"/>
<circle cx="267.30" cy="494.08" r="10" fill="#fff"/><circle cx="267.30" cy="494.08" r="5.5" fill="#2ca02c"/>
<circle cx="271.10" cy="547.34" r="10" fill="#fff"/><circle cx="271.10" cy="547.34" r="5.5" fill="#2ca02c"/>
<circle cx="275.30" cy="723.38" r="10" fill="#fff"/><circle cx="275.30" cy="723.38" r="5.5" fill="#2ca02c"/>
<circle cx="279.67" cy="838.50" r="10" fill="#fff"/><circle cx="279.67" cy="838.50" r="5.5" fill="#2ca02c"/>
<circle cx="283.95" cy="838.50" r="10" fill="#fff"/><circle cx="283.95" cy="838.50" r="5.5" fill="#2ca02c"/>
<circle cx="288.24" cy="838.50" r="10" fill="#fff"/><circle cx="288.24" cy="838.50" r="5.5" fill="#2ca02c"/>
<circle cx="292.50" cy="827.57" r="10" fill="#fff"/><circle cx="292.50" cy="827.57" r="5.5" fill="#2ca02c"/>
<circle cx="297.20" cy="610.29" r="10" fill="#fff"/><circle cx="297.20" cy="610.29" r="5.5" fill="#2ca02c"/>
<circle cx="301.08" cy="838.50" r="10" fill="#fff"/><circle cx="301.08" cy="838.50" r="5.5" fill="#2ca02c"/>
<circle cx="305.37" cy="838.50" r="10" fill="#fff"/><circle cx="305.37" cy="838.50" r="5.5" fill="#2ca02c"/>
<circle cx="309.65" cy="838.50" r="10" fill="#fff"/><circle cx="309.65" cy="838.50" r="5.5" fill="#2ca02c"/>
<circle cx="313.93" cy="838.50" r="10" fill="#fff"/><circle cx="313.93" cy="838.50" r="5.5" fill="#2ca02c"/>
<circle cx="318.22" cy="838.50" r="10" fill="#fff"/><circle cx="318.22" cy="838.50" r="5.5" fill="#2ca02c"/>
<circle cx="322.50" cy="838.50" r="10" fill="#fff"/><circle cx="322.50" cy="838.50" r="5.5" fill="#2ca02c"/>
<circle cx="327.20" cy="599.36" r="10" fill="#fff"/><circle cx="327.20" cy="599.36" r="5.5" fill="#2ca02c"/>
<circle cx="331.07" cy="838.50" r="10" fill="#fff"/><circle cx="331.07" cy="838.50" r="5.5" fill="#2ca02c"/>
<circle cx="335.35" cy="838.50" r="10" fill="#fff"/><circle cx="335.35" cy="838.50" r="5.5" fill="#2ca02c"/>
<circle cx="339.63" cy="838.50" r="10" fill="#fff"/><circle cx="339.63" cy="838.50" r="5.5" fill="#2ca02c"/>
<circle cx="343.91" cy="838.50" r="10" fill="#fff"/><circle cx="343.91" cy="838.50" r="5.5" fill="#2ca02c"/>
<circle cx="348.20" cy="838.50" r="10" fill="#fff"/><circle cx="348.20" cy="838.50" r="5.5" fill="#2ca02c"/>
<circle cx="352.50" cy="630.29" r="10" fill="#fff"/><circle cx="352.50" cy="630.29" r="5.5" fill="#2ca02c"/>
<circle cx="356.40" cy="801.95" r="10" fill="#fff"/><circle cx="356.40" cy="801.95" r="5.5" fill="#2ca02c"/>
<circle cx="361.05" cy="838.50" r="10" fill="#fff"/><circle cx="361.05" cy="838.50" r="5.5" fill="#2ca02c"/>
<circle cx="365.33" cy="838.50" r="10" fill="#fff"/><circle cx="365.33" cy="838.50" r="5.5" fill="#2ca02c"/>
<circle cx="369.61" cy="838.50" r="10" fill="#fff"/><circle cx="369.61" cy="838.50" r="5.5" fill="#2ca02c"/>
<circle cx="373.90" cy="838.50" r="10" fill="#fff"/><circle cx="373.90" cy="838.50" r="5.5" fill="#2ca02c"/>
<circle cx="378.40" cy="754.15" r="10" fill="#fff"/><circle cx="378.40" cy="754.15" r="5.5" fill="#2ca02c"/>
<circle cx="382.40" cy="681.99" r="10" fill="#fff"/><circle cx="382.40" cy="681.99" r="5.5" fill="#2ca02c"/>
<circle cx="386.74" cy="838.50" r="10" fill="#fff"/><circle cx="386.74" cy="838.50" r="5.5" fill="#2ca02c"/>
<circle cx="391.03" cy="838.50" r="10" fill="#fff"/><circle cx="391.03" cy="838.50" r="5.5" fill="#2ca02c"/>
<circle cx="395.31" cy="838.50" r="10" fill="#fff"/><circle cx="395.31" cy="838.50" r="5.5" fill="#2ca02c"/>
<circle cx="399.59" cy="838.50" r="10" fill="#fff"/><circle cx="399.59" cy="838.50" r="5.5" fill="#2ca02c"/>
<circle cx="403.88" cy="838.50" r="10" fill="#fff"/><circle cx="403.88" cy="838.50" r="5.5" fill="#2ca02c"/>
<circle cx="408.40" cy="780.55" r="10" fill="#fff"/><circle cx="408.40" cy="780.55" r="5.5" fill="#2ca02c"/>
<circle cx="412.50" cy="651.06" r="10" fill="#fff"/><circle cx="412.50" cy="651.06" r="5.5" fill="#2ca02c"/>
<circle cx="416.73" cy="838.50" r="10" fill="#fff"/><circle cx="416.73" cy="838.50" r="5.5" fill="#2ca02c"/>
<circle cx="421.01" cy="838.50" r="10" fill="#fff"/><circle cx="421.01" cy="838.50" r="5.5" fill="#2ca02c"/>
<circle cx="425.29" cy="838.50" r="10" fill="#fff"/><circle cx="425.29" cy="838.50" r="5.5" fill="#2ca02c"/>
<circle cx="429.57" cy="838.50" r="10" fill="#fff"/><circle cx="429.57" cy="838.50" r="5.5" fill="#2ca02c"/>
<circle cx="433.86" cy="838.50" r="10" fill="#fff"/><circle cx="433.86" cy="838.50" r="5.5" fill="#2ca02c"/>
<circle cx="438.50" cy="651.06" r="10" fill="#fff"/><circle cx="438.50" cy="651.06" r="5.5" fill="#2ca02c"/>
<circle cx="442.00" cy="784.45" r="10" fill="#fff"/><circle cx="442.00" cy="784.45" r="5.5" fill="#2ca02c"/>
<circle cx="446.71" cy="838.50" r="10" fill="#fff"/><circle cx="446.71" cy="838.50" r="5.5" fill="#2ca02c"/>
<circle cx="450.99" cy="838.50" r="10" fill="#fff"/><circle cx="450.99" cy="838.50" r="5.5" fill="#2ca02c"/>
<circle cx="455.27" cy="838.50" r="10" fill="#fff"/><circle cx="455.27" cy="838.50" r="5.5" fill="#2ca02c"/>
<circle cx="459.40" cy="815.85" r="10" fill="#fff"/><circle cx="459.40" cy="815.85" r="5.5" fill="#2ca02c"/>
<circle cx="464.40" cy="671.05" r="10" fill="#fff"/><circle cx="464.40" cy="671.05" r="5.5" fill="#2ca02c"/>
<circle cx="468.00" cy="738.84" r="10" fill="#fff"/><circle cx="468.00" cy="738.84" r="5.5" fill="#2ca02c"/>
<circle cx="472.40" cy="114.20" r="10" fill="#fff"/><circle cx="472.40" cy="114.20" r="5.5" fill="#2ca02c"/>
<circle cx="476.40" cy="195.42" r="10" fill="#fff"/><circle cx="476.40" cy="195.42" r="5.5" fill="#2ca02c"/>
<circle cx="481.10" cy="562.18" r="10" fill="#fff"/><circle cx="481.10" cy="562.18" r="5.5" fill="#2ca02c"/>
<circle cx="485.25" cy="838.50" r="10" fill="#fff"/><circle cx="485.25" cy="838.50" r="5.5" fill="#2ca02c"/>
<circle cx="489.40" cy="829.60" r="10" fill="#fff"/><circle cx="489.40" cy="829.60" r="5.5" fill="#2ca02c"/>
<circle cx="493.60" cy="732.44" r="10" fill="#fff"/><circle cx="493.60" cy="732.44" r="5.5" fill="#2ca02c"/>
<circle cx="498.30" cy="691.05" r="10" fill="#fff"/><circle cx="498.30" cy="691.05" r="5.5" fill="#2ca02c"/>
<circle cx="502.39" cy="838.50" r="10" fill="#fff"/><circle cx="502.39" cy="838.50" r="5.5" fill="#2ca02c"/>
<circle cx="506.67" cy="838.50" r="10" fill="#fff"/><circle cx="506.67" cy="838.50" r="5.5" fill="#2ca02c"/>
<circle cx="510.95" cy="838.50" r="10" fill="#fff"/><circle cx="510.95" cy="838.50" r="5.5" fill="#2ca02c"/>
<circle cx="515.23" cy="838.50" r="10" fill="#fff"/><circle cx="515.23" cy="838.50" r="5.5" fill="#2ca02c"/>
<circle cx="519.40" cy="813.04" r="10" fill="#fff"/><circle cx="519.40" cy="813.04" r="5.5" fill="#2ca02c"/>
<circle cx="523.60" cy="83.12" r="10" fill="#fff"/><circle cx="523.60" cy="83.12" r="5.5" fill="#2ca02c"/>
<circle cx="528.40" cy="206.36" r="10" fill="#fff"/><circle cx="528.40" cy="206.36" r="5.5" fill="#2ca02c"/>
<circle cx="532.00" cy="495.02" r="10" fill="#fff"/><circle cx="532.00" cy="495.02" r="5.5" fill="#2ca02c"/>
<circle cx="536.20" cy="658.25" r="10" fill="#fff"/><circle cx="536.20" cy="658.25" r="5.5" fill="#2ca02c"/>
<circle cx="541.40" cy="755.40" r="10" fill="#fff"/><circle cx="541.40" cy="755.40" r="5.5" fill="#2ca02c"/>
<circle cx="545.22" cy="838.50" r="10" fill="#fff"/><circle cx="545.22" cy="838.50" r="5.5" fill="#2ca02c"/>
<circle cx="549.50" cy="838.50" r="10" fill="#fff"/><circle cx="549.50" cy="838.50" r="5.5" fill="#2ca02c"/>
<circle cx="553.78" cy="838.50" r="10" fill="#fff"/><circle cx="553.78" cy="838.50" r="5.5" fill="#2ca02c"/>
<circle cx="558.06" cy="838.50" r="10" fill="#fff"/><circle cx="558.06" cy="838.50" r="5.5" fill="#2ca02c"/>
<circle cx="562.40" cy="833.03" r="10" fill="#fff"/><circle cx="562.40" cy="833.03" r="5.5" fill="#2ca02c"/>
<circle cx="566.40" cy="671.37" r="10" fill="#fff"/><circle cx="566.40" cy="671.37" r="5.5" fill="#2ca02c"/>
<circle cx="570.40" cy="760.40" r="10" fill="#fff"/><circle cx="570.40" cy="760.40" r="5.5" fill="#2ca02c"/>
<circle cx="575.20" cy="838.50" r="10" fill="#fff"/><circle cx="575.20" cy="838.50" r="5.5" fill="#2ca02c"/>
<circle cx="579.48" cy="838.50" r="10" fill="#fff"/><circle cx="579.48" cy="838.50" r="5.5" fill="#2ca02c"/>
<circle cx="583.40" cy="833.97" r="10" fill="#fff"/><circle cx="583.40" cy="833.97" r="5.5" fill="#2ca02c"/>
<circle cx="588.40" cy="803.36" r="10" fill="#fff"/><circle cx="588.40" cy="803.36" r="5.5" fill="#2ca02c"/>
<circle cx="592.30" cy="647.47" r="10" fill="#fff"/><circle cx="592.30" cy="647.47" r="5.5" fill="#2ca02c"/>
<circle cx="596.40" cy="823.35" r="10" fill="#fff"/><circle cx="596.40" cy="823.35" r="5.5" fill="#2ca02c"/>
<circle cx="600.89" cy="838.50" r="10" fill="#fff"/><circle cx="600.89" cy="838.50" r="5.5" fill="#2ca02c"/>
<circle cx="605.18" cy="838.50" r="10" fill="#fff"/><circle cx="605.18" cy="838.50" r="5.5" fill="#2ca02c"/>
<circle cx="609.40" cy="806.01" r="10" fill="#fff"/><circle cx="609.40" cy="806.01" r="5.5" fill="#2ca02c"/>
<circle cx="613.74" cy="838.50" r="10" fill="#fff"/><circle cx="613.74" cy="838.50" r="5.5" fill="#2ca02c"/>
<circle cx="618.03" cy="838.50" r="10" fill="#fff"/><circle cx="618.03" cy="838.50" r="5.5" fill="#2ca02c"/>
<circle cx="622.40" cy="763.37" r="10" fill="#fff"/><circle cx="622.40" cy="763.37" r="5.5" fill="#2ca02c"/>
<circle cx="626.40" cy="669.34" r="10" fill="#fff"/><circle cx="626.40" cy="669.34" r="5.5" fill="#2ca02c"/>
<circle cx="630.88" cy="838.50" r="10" fill="#fff"/><circle cx="630.88" cy="838.50" r="5.5" fill="#2ca02c"/>
<circle cx="635.16" cy="838.50" r="10" fill="#fff"/><circle cx="635.16" cy="838.50" r="5.5" fill="#2ca02c"/>
<circle cx="639.44" cy="838.50" r="10" fill="#fff"/><circle cx="639.44" cy="838.50" r="5.5" fill="#2ca02c"/>
<circle cx="643.72" cy="838.50" r="10" fill="#fff"/><circle cx="643.72" cy="838.50" r="5.5" fill="#2ca02c"/>
<circle cx="648.40" cy="740.09" r="10" fill="#fff"/><circle cx="648.40" cy="740.09" r="5.5" fill="#2ca02c"/>
<circle cx="652.30" cy="694.17" r="10" fill="#fff"/><circle cx="652.30" cy="694.17" r="5.5" fill="#2ca02c"/>
<circle cx="656.57" cy="838.50" r="10" fill="#fff"/><circle cx="656.57" cy="838.50" r="5.5" fill="#2ca02c"/>
<circle cx="660.00" cy="837.41" r="10" fill="#fff"/><circle cx="660.00" cy="837.41" r="5.5" fill="#2ca02c"/>
<circle cx="665.30" cy="753.37" r="10" fill="#fff"/><circle cx="665.30" cy="753.37" r="5.5" fill="#2ca02c"/>
<circle cx="669.50" cy="678.24" r="10" fill="#fff"/><circle cx="669.50" cy="678.24" r="5.5" fill="#2ca02c"/>
<circle cx="673.71" cy="838.50" r="10" fill="#fff"/><circle cx="673.71" cy="838.50" r="5.5" fill="#2ca02c"/>
<circle cx="677.99" cy="838.50" r="10" fill="#fff"/><circle cx="677.99" cy="838.50" r="5.5" fill="#2ca02c"/>
<circle cx="682.27" cy="838.50" r="10" fill="#fff"/><circle cx="682.27" cy="838.50" r="5.5" fill="#2ca02c"/>
<circle cx="686.55" cy="838.50" r="10" fill="#fff"/><circle cx="686.55" cy="838.50" r="5.5" fill="#2ca02c"/>
<circle cx="690.40" cy="723.38" r="10" fill="#fff"/><circle cx="690.40" cy="723.38" r="5.5" fill="#2ca02c"/>
<circle cx="695.40" cy="610.45" r="10" fill="#fff"/><circle cx="695.40" cy="610.45" r="5.5" fill="#2ca02c"/>
<circle cx="699.40" cy="838.50" r="10" fill="#fff"/><circle cx="699.40" cy="838.50" r="5.5" fill="#2ca02c"/>
<circle cx="703.69" cy="838.50" r="10" fill="#fff"/><circle cx="703.69" cy="838.50" r="5.5" fill="#2ca02c"/>
<circle cx="707.97" cy="838.50" r="10" fill="#fff"/><circle cx="707.97" cy="838.50" r="5.5" fill="#2ca02c"/>
<circle cx="712.25" cy="838.50" r="10" fill="#fff"/><circle cx="712.25" cy="838.50" r="5.5" fill="#2ca02c"/>
<circle cx="716.40" cy="828.03" r="10" fill="#fff"/><circle cx="716.40" cy="828.03" r="5.5" fill="#2ca02c"/>
<circle cx="720.82" cy="838.50" r="10" fill="#fff"/><circle cx="720.82" cy="838.50" r="5.5" fill="#2ca02c"/>
<circle cx="725.50" cy="598.42" r="10" fill="#fff"/><circle cx="725.50" cy="598.42" r="5.5" fill="#2ca02c"/>
<circle cx="729.38" cy="838.50" r="10" fill="#fff"/><circle cx="729.38" cy="838.50" r="5.5" fill="#2ca02c"/>
<circle cx="733.67" cy="838.50" r="10" fill="#fff"/><circle cx="733.67" cy="838.50" r="5.5" fill="#2ca02c"/>
<circle cx="737.95" cy="838.50" r="10" fill="#fff"/><circle cx="737.95" cy="838.50" r="5.5" fill="#2ca02c"/>
<circle cx="741.60" cy="836.00" r="10" fill="#fff"/><circle cx="741.60" cy="836.00" r="5.5" fill="#2ca02c"/>
<circle cx="746.40" cy="805.39" r="10" fill="#fff"/><circle cx="746.40" cy="805.39" r="5.5" fill="#2ca02c"/>
<circle cx="750.40" cy="602.33" r="10" fill="#fff"/><circle cx="750.40" cy="602.33" r="5.5" fill="#2ca02c"/>
<circle cx="755.08" cy="838.50" r="10" fill="#fff"/><circle cx="755.08" cy="838.50" r="5.5" fill="#2ca02c"/>
<circle cx="759.37" cy="838.50" r="10" fill="#fff"/><circle cx="759.37" cy="838.50" r="5.5" fill="#2ca02c"/>
<circle cx="763.65" cy="838.50" r="10" fill="#fff"/><circle cx="763.65" cy="838.50" r="5.5" fill="#2ca02c"/>
<circle cx="767.93" cy="838.50" r="10" fill="#fff"/><circle cx="767.93" cy="838.50" r="5.5" fill="#2ca02c"/>
<circle cx="772.21" cy="838.50" r="10" fill="#fff"/><circle cx="772.21" cy="838.50" r="5.5" fill="#2ca02c"/>
<circle cx="776.40" cy="714.01" r="10" fill="#fff"/><circle cx="776.40" cy="714.01" r="5.5" fill="#2ca02c"/>
<circle cx="780.40" cy="705.42" r="10" fill="#fff"/><circle cx="780.40" cy="705.42" r="5.5" fill="#2ca02c"/>
<circle cx="785.06" cy="838.50" r="10" fill="#fff"/><circle cx="785.06" cy="838.50" r="5.5" fill="#2ca02c"/>
<circle cx="789.35" cy="838.50" r="10" fill="#fff"/><circle cx="789.35" cy="838.50" r="5.5" fill="#2ca02c"/>
<circle cx="793.63" cy="838.50" r="10" fill="#fff"/><circle cx="793.63" cy="838.50" r="5.5" fill="#2ca02c"/>
<circle cx="797.91" cy="838.50" r="10" fill="#fff"/><circle cx="797.91" cy="838.50" r="5.5" fill="#2ca02c"/>
<circle cx="802.00" cy="831.94" r="10" fill="#fff"/><circle cx="802.00" cy="831.94" r="5.5" fill="#2ca02c"/>
<circle cx="806.60" cy="794.45" r="10" fill="#fff"/><circle cx="806.60" cy="794.45" r="5.5" fill="#2ca02c"/>
<circle cx="810.50" cy="642.47" r="10" fill="#fff"/><circle cx="810.50" cy="642.47" r="5.5" fill="#2ca02c"/>
<circle cx="815.04" cy="838.50" r="10" fill="#fff"/><circle cx="815.04" cy="838.50" r="5.5" fill="#2ca02c"/>
<circle cx="819.33" cy="838.50" r="10" fill="#fff"/><circle cx="819.33" cy="838.50" r="5.5" fill="#2ca02c"/>
<circle cx="823.61" cy="838.50" r="10" fill="#fff"/><circle cx="823.61" cy="838.50" r="5.5" fill="#2ca02c"/>
<circle cx="827.00" cy="836.47" r="10" fill="#fff"/><circle cx="827.00" cy="836.47" r="5.5" fill="#2ca02c"/>
<circle cx="832.40" cy="761.02" r="10" fill="#fff"/><circle cx="832.40" cy="761.02" r="5.5" fill="#2ca02c"/>
<circle cx="836.40" cy="671.37" r="10" fill="#fff"/><circle cx="836.40" cy="671.37" r="5.5" fill="#2ca02c"/>
<circle cx="840.74" cy="838.50" r="10" fill="#fff"/><circle cx="840.74" cy="838.50" r="5.5" fill="#2ca02c"/>
<circle cx="845.03" cy="838.50" r="10" fill="#fff"/><circle cx="845.03" cy="838.50" r="5.5" fill="#2ca02c"/>
<circle cx="849.31" cy="838.50" r="10" fill="#fff"/><circle cx="849.31" cy="838.50" r="5.5" fill="#2ca02c"/>
<circle cx="853.59" cy="838.50" r="10" fill="#fff"/><circle cx="853.59" cy="838.50" r="5.5" fill="#2ca02c"/>
<circle cx="857.87" cy="838.50" r="10" fill="#fff"/><circle cx="857.87" cy="838.50" r="5.5" fill="#2ca02c"/>
<circle cx="862.30" cy="587.17" r="10" fill="#fff"/><circle cx="862.30" cy="587.17" r="5.5" fill="#2ca02c"/>
<circle cx="866.44" cy="838.50" r="10" fill="#fff"/><circle cx="866.44" cy="838.50" r="5.5" fill="#2ca02c"/>
<circle cx="870.72" cy="838.50" r="10" fill="#fff"/><circle cx="870.72" cy="838.50" r="5.5" fill="#2ca02c"/>
<circle cx="875.01" cy="838.50" r="10" fill="#fff"/><circle cx="875.01" cy="838.50" r="5.5" fill="#2ca02c"/>
<circle cx="879.29" cy="838.50" r="10" fill="#fff"/><circle cx="879.29" cy="838.50" r="5.5" fill="#2ca02c"/>
<circle cx="883.57" cy="838.50" r="10" fill="#fff"/><circle cx="883.57" cy="838.50" r="5.5" fill="#2ca02c"/>
<circle cx="887.86" cy="838.50" r="10" fill="#fff"/><circle cx="887.86" cy="838.50" r="5.5" fill="#2ca02c"/>
<circle cx="891.60" cy="612.63" r="10" fill="#fff"/><circle cx="891.60" cy="612.63" r="5.5" fill="#2ca02c"/>
<circle cx="896.40" cy="785.39" r="10" fill="#fff"/><circle cx="896.40" cy="785.39" r="5.5" fill="#2ca02c"/>
<circle cx="900.70" cy="838.50" r="10" fill="#fff"/><circle cx="900.70" cy="838.50" r="5.5" fill="#2ca02c"/>
<circle cx="904.99" cy="838.50" r="10" fill="#fff"/><circle cx="904.99" cy="838.50" r="5.5" fill="#2ca02c"/>
<circle cx="909.27" cy="838.50" r="10" fill="#fff"/><circle cx="909.27" cy="838.50" r="5.5" fill="#2ca02c"/>
<circle cx="912.40" cy="835.06" r="10" fill="#fff"/><circle cx="912.40" cy="835.06" r="5.5" fill="#2ca02c"/>
<circle cx="917.50" cy="591.24" r="10" fill="#fff"/><circle cx="917.50" cy="591.24" r="5.5" fill="#2ca02c"/>
<circle cx="921.00" cy="831.00" r="10" fill="#fff"/><circle cx="921.00" cy="831.00" r="5.5" fill="#2ca02c"/>
<circle cx="926.40" cy="838.50" r="10" fill="#fff"/><circle cx="926.40" cy="838.50" r="5.5" fill="#2ca02c"/>
<circle cx="930.69" cy="838.50" r="10" fill="#fff"/><circle cx="930.69" cy="838.50" r="5.5" fill="#2ca02c"/>
<circle cx="934.97" cy="838.50" r="10" fill="#fff"/><circle cx="934.97" cy="838.50" r="5.5" fill="#2ca02c"/>
<circle cx="939.25" cy="838.50" r="10" fill="#fff"/><circle cx="939.25" cy="838.50" r="5.5" fill="#2ca02c"/>
<circle cx="943.40" cy="825.07" r="10" fill="#fff"/><circle cx="943.40" cy="825.07" r="5.5" fill="#2ca02c"/>
<circle cx="947.60" cy="609.35" r="10" fill="#fff"/><circle cx="947.60" cy="609.35" r="5.5" fill="#2ca02c"/>
<circle cx="951.40" cy="626.54" r="10" fill="#fff"/><circle cx="951.40" cy="626.54" r="5.5" fill="#2ca02c"/>
<circle cx="956.38" cy="838.50" r="10" fill="#fff"/><circle cx="956.38" cy="838.50" r="5.5" fill="#2ca02c"/>
<circle cx="960.67" cy="838.50" r="10" fill="#fff"/><circle cx="960.67" cy="838.50" r="5.5" fill="#2ca02c"/>
<circle cx="964.95" cy="838.50" r="10" fill="#fff"/><circle cx="964.95" cy="838.50" r="5.5" fill="#2ca02c"/>
<circle cx="969.23" cy="838.50" r="10" fill="#fff"/><circle cx="969.23" cy="838.50" r="5.5" fill="#2ca02c"/>
<circle cx="973.40" cy="756.34" r="10" fill="#fff"/><circle cx="973.40" cy="756.34" r="5.5" fill="#2ca02c"/>
<circle cx="977.30" cy="681.52" r="10" fill="#fff"/><circle cx="977.30" cy="681.52" r="5.5" fill="#2ca02c"/>
<circle cx="982.08" cy="838.50" r="10" fill="#fff"/><circle cx="982.08" cy="838.50" r="5.5" fill="#2ca02c"/>
<circle cx="986.40" cy="806.48" r="10" fill="#fff"/><circle cx="986.40" cy="806.48" r="5.5" fill="#2ca02c"/>
<circle cx="990.65" cy="838.50" r="10" fill="#fff"/><circle cx="990.65" cy="838.50" r="5.5" fill="#2ca02c"/>
<circle cx="994.93" cy="838.50" r="10" fill="#fff"/><circle cx="994.93" cy="838.50" r="5.5" fill="#2ca02c"/>
<circle cx="998.00" cy="835.06" r="10" fill="#fff"/><circle cx="998.00" cy="835.06" r="5.5" fill="#2ca02c"/>
<circle cx="1003.20" cy="597.33" r="10" fill="#fff"/><circle cx="1003.20" cy="597.33" r="5.5" fill="#2ca02c"/>
<circle cx="1007.78" cy="838.50" r="10" fill="#fff"/><circle cx="1007.78" cy="838.50" r="5.5" fill="#2ca02c"/>
<circle cx="1012.06" cy="838.50" r="10" fill="#fff"/><circle cx="1012.06" cy="838.50" r="5.5" fill="#2ca02c"/>
<circle cx="1016.35" cy="838.50" r="10" fill="#fff"/><circle cx="1016.35" cy="838.50" r="5.5" fill="#2ca02c"/>
<circle cx="1020.63" cy="838.50" r="10" fill="#fff"/><circle cx="1020.63" cy="838.50" r="5.5" fill="#2ca02c"/>
<circle cx="1024.91" cy="838.50" r="10" fill="#fff"/><circle cx="1024.91" cy="838.50" r="5.5" fill="#2ca02c"/>
<circle cx="1028.60" cy="623.57" r="10" fill="#fff"/><circle cx="1028.60" cy="623.57" r="5.5" fill="#2ca02c"/>
<circle cx="1033.40" cy="797.42" r="10" fill="#fff"/><circle cx="1033.40" cy="797.42" r="5.5" fill="#2ca02c"/>
<circle cx="1037.76" cy="838.50" r="10" fill="#fff"/><circle cx="1037.76" cy="838.50" r="5.5" fill="#2ca02c"/>
<circle cx="1042.04" cy="838.50" r="10" fill="#fff"/><circle cx="1042.04" cy="838.50" r="5.5" fill="#2ca02c"/>
<circle cx="1046.33" cy="838.50" r="10" fill="#fff"/><circle cx="1046.33" cy="838.50" r="5.5" fill="#2ca02c"/>
<circle cx="1050.61" cy="838.50" r="10" fill="#fff"/><circle cx="1050.61" cy="838.50" r="5.5" fill="#2ca02c"/>
<circle cx="1053.60" cy="835.06" r="10" fill="#fff"/><circle cx="1053.60" cy="835.06" r="5.5" fill="#2ca02c"/>
<circle cx="1058.30" cy="600.45" r="10" fill="#fff"/><circle cx="1058.30" cy="600.45" r="5.5" fill="#2ca02c"/>
<circle cx="1063.46" cy="838.50" r="10" fill="#fff"/><circle cx="1063.46" cy="838.50" r="5.5" fill="#2ca02c"/>
<circle cx="1067.74" cy="838.50" r="10" fill="#fff"/><circle cx="1067.74" cy="838.50" r="5.5" fill="#2ca02c"/>
<circle cx="1072.02" cy="838.50" r="10" fill="#fff"/><circle cx="1072.02" cy="838.50" r="5.5" fill="#2ca02c"/>
<circle cx="1076.31" cy="838.50" r="10" fill="#fff"/><circle cx="1076.31" cy="838.50" r="5.5" fill="#2ca02c"/>
<circle cx="1080.00" cy="827.57" r="10" fill="#fff"/><circle cx="1080.00" cy="827.57" r="5.5" fill="#2ca02c"/>
<circle cx="1084.87" cy="838.50" r="10" fill="#fff"/><circle cx="1084.87" cy="838.50" r="5.5" fill="#2ca02c"/>
<circle cx="1089.16" cy="838.50" r="10" fill="#fff"/><circle cx="1089.16" cy="838.50" r="5.5" fill="#2ca02c"/>
<circle cx="1093.44" cy="838.50" r="10" fill="#fff"/><circle cx="1093.44" cy="838.50" r="5.5" fill="#2ca02c"/>
<circle cx="1097.72" cy="838.50" r="10" fill="#fff"/><circle cx="1097.72" cy="838.50" r="5.5" fill="#2ca02c"/>
<circle cx="1102.01" cy="838.50" r="10" fill="#fff"/><circle cx="1102.01" cy="838.50" r="5.5" fill="#2ca02c"/>
<circle cx="1105.40" cy="838.50" r="10" fill="#fff"/><circle cx="1105.40" cy="838.50" r="5.5" fill="#2ca02c"/>
<path d="M93.95,843.64L93.10,843.23L92.33,842.68L91.67,842.01L91.13,841.24L90.73,840.38L90.49,839.47L90.40,838.53L90.48,837.59L90.71,836.67L91.10,835.81L93.37,843.01L92.85,842.32L92.39,841.60L92.00,840.83L91.67,840.04L91.41,839.22L91.22,838.38L91.11,837.53L91.07,836.67ZM104.62,841.33L104.23,840.73L103.91,840.09L103.68,839.41L103.55,838.71L103.50,838.00L103.55,837.29L103.68,836.59L103.91,835.91L104.23,835.27L104.62,834.67L104.42,840.68L104.26,840.02L104.14,839.35L104.07,838.68L104.05,838.00L104.07,837.32L104.14,836.65L104.26,835.98L104.42,835.32ZM121.72,841.33L121.33,840.73L121.01,840.09L120.78,839.41L120.65,838.71L120.60,838.00L120.65,837.29L120.78,836.59L121.01,835.91L121.33,835.27L121.72,834.67L121.52,840.68L121.36,840.02L121.24,839.35L121.17,838.68L121.15,838.00L121.17,837.32L121.24,836.65L121.36,835.98L121.52,835.32ZM137.15,843.64L136.30,843.23L135.53,842.68L134.87,842.01L134.33,841.24L133.93,840.38L133.69,839.47L133.60,838.53L133.68,837.59L133.91,836.67L134.30,835.81L136.57,843.01L136.05,842.32L135.59,841.60L135.20,840.83L134.87,840.04L134.61,839.22L134.42,838.38L134.31,837.53L134.27,836.67ZM138.52,833.96L138.77,833.26L139.12,832.61L139.56,832.00L140.07,831.46L140.65,830.99L141.28,830.61L141.96,830.32L142.68,830.12L143.42,830.01L144.16,830.01L138.94,833.40L139.40,832.87L139.90,832.37L140.43,831.91L140.99,831.49L141.58,831.10L142.19,830.76L142.83,830.47L143.49,830.22ZM151.42,841.83L151.03,841.23L150.71,840.59L150.48,839.91L150.35,839.21L150.30,838.50L150.35,837.79L150.48,837.09L150.71,836.41L151.03,835.77L151.42,835.17L151.22,841.18L151.06,840.52L150.94,839.85L150.87,839.18L150.85,838.50L150.87,837.82L150.94,837.15L151.06,836.48L151.22,835.82ZM168.52,841.83L168.13,841.23L167.81,840.59L167.58,839.91L167.45,839.21L167.40,838.50L167.45,837.79L167.58,837.09L167.81,836.41L168.13,835.77L168.52,835.17L168.32,841.18L168.16,840.52L168.04,839.85L167.97,839.18L167.95,838.50L167.97,837.82L168.04,837.15L168.16,836.48L168.32,835.82ZM180.65,837.13L180.48,836.43L180.40,835.72L180.42,835.01L180.53,834.30L180.73,833.62L181.02,832.97L181.39,832.35L181.83,831.80L182.35,831.30L182.92,830.88L180.68,836.45L180.75,835.78L180.87,835.11L181.04,834.45L181.25,833.81L181.50,833.18L181.80,832.57L182.13,831.98L182.51,831.41ZM198.11,838.51L197.82,837.86L197.63,837.17L197.52,836.47L197.51,835.75L197.58,835.04L197.75,834.35L198.01,833.69L198.35,833.06L198.77,832.48L199.26,831.96L198.02,837.84L197.98,837.17L197.98,836.49L198.03,835.81L198.13,835.14L198.27,834.48L198.45,833.83L198.68,833.19L198.95,832.57ZM275.62,841.33L275.23,840.73L274.91,840.09L274.68,839.41L274.55,838.71L274.50,838.00L274.55,837.29L274.68,836.59L274.91,835.91L275.23,835.27L275.62,834.67L275.42,840.68L275.26,840.02L275.14,839.35L275.07,838.68L275.05,838.00L275.07,837.32L275.14,836.65L275.26,835.98L275.42,835.32ZM308.05,843.71L307.15,843.32L306.33,842.77L305.62,842.08L305.05,841.27L304.63,840.38L304.38,839.43L304.30,838.44L304.40,837.46L304.67,836.51L305.11,835.63L307.44,843.06L306.90,842.36L306.42,841.61L306.01,840.83L305.67,840.00L305.40,839.16L305.21,838.29L305.10,837.41L305.06,836.52ZM307.72,834.46L307.97,833.76L308.32,833.11L308.76,832.50L309.27,831.96L309.85,831.49L310.48,831.11L311.16,830.82L311.88,830.62L312.62,830.51L313.36,830.51L308.14,833.90L308.60,833.37L309.10,832.87L309.63,832.41L310.19,831.99L310.78,831.60L311.39,831.26L312.03,830.97L312.69,830.72ZM335.41,839.01L335.12,838.36L334.93,837.67L334.82,836.97L334.81,836.25L334.88,835.54L335.05,834.85L335.31,834.19L335.65,833.56L336.07,832.98L336.56,832.46L335.32,838.34L335.28,837.67L335.28,836.99L335.33,836.31L335.43,835.64L335.57,834.98L335.75,834.33L335.98,833.69L336.25,833.07ZM365.32,840.33L364.93,839.73L364.61,839.09L364.38,838.41L364.25,837.71L364.20,837.00L364.25,836.29L364.38,835.59L364.61,834.91L364.93,834.27L365.32,833.67L365.12,839.68L364.96,839.02L364.84,838.35L364.77,837.68L364.75,837.00L364.77,836.32L364.84,835.65L364.96,834.98L365.12,834.32ZM381.71,838.01L381.42,837.36L381.23,836.67L381.12,835.97L381.11,835.25L381.18,834.54L381.35,833.85L381.61,833.19L381.95,832.56L382.37,831.98L382.86,831.46L381.62,837.34L381.58,836.67L381.58,835.99L381.63,835.31L381.73,834.64L381.87,833.98L382.05,833.33L382.28,832.69L382.55,832.07ZM394.95,836.13L394.78,835.43L394.70,834.72L394.72,834.01L394.83,833.30L395.03,832.62L395.32,831.97L395.69,831.35L396.13,830.80L396.65,830.30L397.22,829.88L394.98,835.45L395.05,834.78L395.17,834.11L395.34,833.45L395.55,832.81L395.80,832.18L396.10,831.57L396.43,830.98L396.81,830.41ZM412.62,839.33L412.23,838.73L411.91,838.09L411.68,837.41L411.55,836.71L411.50,836.00L411.55,835.29L411.68,834.59L411.91,833.91L412.23,833.27L412.62,832.67L412.42,838.68L412.26,838.02L412.14,837.35L412.07,836.68L412.05,836.00L412.07,835.32L412.14,834.65L412.26,833.98L412.42,833.32ZM425.72,841.83L425.33,841.23L425.01,840.59L424.78,839.91L424.65,839.21L424.60,838.50L424.65,837.79L424.78,837.09L425.01,836.41L425.33,835.77L425.72,835.17L425.52,841.18L425.36,840.52L425.24,839.85L425.17,839.18L425.15,838.50L425.17,837.82L425.24,837.15L425.36,836.48L425.52,835.82ZM442.52,840.33L442.13,839.73L441.81,839.09L441.58,838.41L441.45,837.71L441.40,837.00L441.45,836.29L441.58,835.59L441.81,834.91L442.13,834.27L442.52,833.67L442.32,839.68L442.16,839.02L442.04,838.35L441.97,837.68L441.95,837.00L441.97,836.32L442.04,835.65L442.16,834.98L442.32,834.32ZM504.52,833.91L504.53,832.96L504.70,832.03L505.03,831.15L505.50,830.33L506.11,829.61L506.83,829.00L507.65,828.53L508.53,828.20L509.46,828.03L510.41,828.02L504.85,833.11L505.25,832.35L505.71,831.63L506.24,830.95L506.82,830.32L507.45,829.74L508.13,829.21L508.85,828.75L509.61,828.35ZM597.02,841.33L596.63,840.73L596.31,840.09L596.08,839.41L595.95,838.71L595.90,838.00L595.95,837.29L596.08,836.59L596.31,835.91L596.63,835.27L597.02,834.67L596.82,840.68L596.66,840.02L596.54,839.35L596.47,838.68L596.45,838.00L596.47,837.32L596.54,836.65L596.66,835.98L596.82,835.32ZM610.02,833.91L610.03,832.96L610.20,832.03L610.53,831.15L611.00,830.33L611.61,829.61L612.33,829.00L613.15,828.53L614.03,828.20L614.96,828.03L615.91,828.02L610.35,833.11L610.75,832.35L611.21,831.63L611.74,830.95L612.32,830.32L612.95,829.74L613.63,829.21L614.35,828.75L615.11,828.35Z" fill="#2ca02c"/>
<path d="M472.42,841.33L472.03,840.73L471.71,840.09L471.48,839.41L471.35,838.71L471.30,838.00L471.35,837.29L471.48,836.59L471.71,835.91L472.03,835.27L472.42,834.67L472.22,840.68L472.06,840.02L471.94,839.35L471.87,838.68L471.85,838.00L471.87,837.32L471.94,836.65L472.06,835.98L472.22,835.32Z" fill="#ff7f0e"/>
<path d="M95.5,57.5V838.5H1165.5" stroke="#000" stroke-width="1.2" fill="none" stroke-linecap="square"/>
<g font-family='"Liberation Sans", sans-serif' fill="#000"><text transform="matrix(1.0347 0 0 1 76.67 844.90)" font-size="16.3">0</text><text transform="matrix(0.9765 0 0 1 56.50 766.67)" font-size="16.3">5</text><text transform="matrix(1.0347 0 0 1 66.48 766.67)" font-size="16.3">0</text><text transform="matrix(1.0347 0 0 1 76.67 766.67)" font-size="16.3">0</text><text transform="matrix(0.9883 0 0 1 46.24 688.44)" font-size="16.3">1</text><text transform="matrix(1.0347 0 0 1 56.30 688.44)" font-size="16.3">0</text><text transform="matrix(1.0347 0 0 1 66.48 688.44)" font-size="16.3">0</text><text transform="matrix(1.0347 0 0 1 76.67 688.44)" font-size="16.3">0</text><text transform="matrix(0.9883 0 0 1 46.24 610.21)" font-size="16.3">1</text><text transform="matrix(0.9765 0 0 1 56.50 610.21)" font-size="16.3">5</text><text transform="matrix(1.0347 0 0 1 66.48 610.21)" font-size="16.3">0</text><text transform="matrix(1.0347 0 0 1 76.67 610.21)" font-size="16.3">0</text><text transform="matrix(0.9974 0 0 1 46.07 531.98)" font-size="16.3">2</text><text transform="matrix(1.0347 0 0 1 56.30 531.98)" font-size="16.3">0</text><text transform="matrix(1.0347 0 0 1 66.48 531.98)" font-size="16.3">0</text><text transform="matrix(1.0347 0 0 1 76.67 531.98)" font-size="16.3">0</text><text transform="matrix(0.9974 0 0 1 46.07 453.75)" font-size="16.3">2</text><text transform="matrix(0.9765 0 0 1 56.50 453.75)" font-size="16.3">5</text><text transform="matrix(1.0347 0 0 1 66.48 453.75)" font-size="16.3">0</text><text transform="matrix(1.0347 0 0 1 76.67 453.75)" font-size="16.3">0</text><text transform="matrix(0.9937 0 0 1 46.31 375.52)" font-size="16.3">3</text><text transform="matrix(1.0347 0 0 1 56.30 375.52)" font-size="16.3">0</text><text transform="matrix(1.0347 0 0 1 66.48 375.52)" font-size="16.3">0</text><text transform="matrix(1.0347 0 0 1 76.67 375.52)" font-size="16.3">0</text><text transform="matrix(0.9937 0 0 1 46.31 297.29)" font-size="16.3">3</text><text transform="matrix(0.9765 0 0 1 56.50 297.29)" font-size="16.3">5</text><text transform="matrix(1.0347 0 0 1 66.48 297.29)" font-size="16.3">0</text><text transform="matrix(1.0347 0 0 1 76.67 297.29)" font-size="16.3">0</text><text transform="matrix(1.0349 0 0 1 46.11 219.06)" font-size="16.3">4</text><text transform="matrix(1.0347 0 0 1 56.30 219.06)" font-size="16.3">0</text><text transform="matrix(1.0347 0 0 1 66.48 219.06)" font-size="16.3">0</text><text transform="matrix(1.0347 0 0 1 76.67 219.06)" font-size="16.3">0</text><text transform="matrix(1.0349 0 0 1 46.11 140.83)" font-size="16.3">4</text><text transform="matrix(0.9765 0 0 1 56.50 140.83)" font-size="16.3">5</text><text transform="matrix(1.0347 0 0 1 66.48 140.83)" font-size="16.3">0</text><text transform="matrix(1.0347 0 0 1 76.67 140.83)" font-size="16.3">0</text><text transform="matrix(0.9765 0 0 1 46.31 62.60)" font-size="16.3">5</text><text transform="matrix(1.0347 0 0 1 56.30 62.60)" font-size="16.3">0</text><text transform="matrix(1.0347 0 0 1 66.48 62.60)" font-size="16.3">0</text><text transform="matrix(1.0347 0 0 1 76.67 62.60)" font-size="16.3">0</text><text transform="matrix(1.0347 0 0 1 93.70 863.80)" font-size="16.3">0</text><text transform="matrix(0.9765 0 0 1 302.81 863.80)" font-size="16.3">5</text><text transform="matrix(1.0347 0 0 1 312.80 863.80)" font-size="16.3">0</text><text transform="matrix(0.9883 0 0 1 511.65 863.80)" font-size="16.3">1</text><text transform="matrix(1.0347 0 0 1 521.70 863.80)" font-size="16.3">0</text><text transform="matrix(1.0347 0 0 1 531.89 863.80)" font-size="16.3">0</text><text transform="matrix(0.9883 0 0 1 725.65 863.80)" font-size="16.3">1</text><text transform="matrix(0.9765 0 0 1 735.90 863.80)" font-size="16.3">5</text><text transform="matrix(1.0347 0 0 1 745.89 863.80)" font-size="16.3">0</text><text transform="matrix(0.9974 0 0 1 939.47 863.80)" font-size="16.3">2</text><text transform="matrix(1.0347 0 0 1 949.70 863.80)" font-size="16.3">0</text><text transform="matrix(1.0347 0 0 1 959.89 863.80)" font-size="16.3">0</text><text transform="matrix(0.9974 0 0 1 1153.47 863.80)" font-size="16.3">2</text><text transform="matrix(0.9765 0 0 1 1163.90 863.80)" font-size="16.3">5</text><text transform="matrix(1.0347 0 0 1 1173.89 863.80)" font-size="16.3">0</text></g>
<g font-family='"Liberation Sans", sans-serif' fill="#000"><text transform="matrix(1.0706 0 0 1 597.61 891.70)" font-size="16.3">T</text><text transform="matrix(1.0034 0 0 1 608.24 891.70)" font-size="16.3">i</text><text transform="matrix(1.1184 0 0 1 612.04 891.70)" font-size="16.3">m</text><text transform="matrix(1.0602 0 0 1 627.54 891.70)" font-size="16.3">e</text><text transform="matrix(0.8297 0 0 1 642.86 891.70)" font-size="16.3">(</text><text transform="matrix(0.9409 0 0 1 649.02 891.70)" font-size="16.3">s</text><text transform="matrix(0.8297 0 0 1 658.12 891.70)" font-size="16.3">)</text></g>
<g font-family='"Liberation Sans", sans-serif' fill="#000" transform="translate(24,477.6) rotate(-90)"><text transform="matrix(0.8681 0 0 1 -1.16 0.00)" font-size="16.3">P</text><text transform="matrix(0.8827 0 0 1 8.44 0.00)" font-size="16.3">a</text><text transform="matrix(0.9849 0 0 1 17.38 0.00)" font-size="16.3">c</text><text transform="matrix(1.0975 0 0 1 26.22 0.00)" font-size="16.3">k</text><text transform="matrix(1.0602 0 0 1 35.39 0.00)" font-size="16.3">e</text><text transform="matrix(1.3119 0 0 1 44.63 0.00)" font-size="16.3">t</text><text transform="matrix(0.9409 0 0 1 51.25 0.00)" font-size="16.3">s</text></g>
<rect x="940" y="65" width="220" height="59.5" fill="#fff"/>
<g font-family='"Liberation Sans", sans-serif' fill="#000"><text transform="matrix(1.0706 0 0 1 1056.54 79.80)" font-size="16.3">T</text><text transform="matrix(0.9112 0 0 1 1066.90 79.80)" font-size="16.3">C</text><text transform="matrix(0.8681 0 0 1 1077.40 79.80)" font-size="16.3">P</text></g>
<path d="M1097.3,74.3H1111.7M1131.3,74.3H1145.3" stroke="#0060ad" stroke-width="2"/>
<circle cx="1121.3" cy="74.3" r="5.5" fill="#0060ad"/>
<g font-family='"Liberation Sans", sans-serif' fill="#000"><text transform="matrix(0.9647 0 0 1 1053.12 98.80)" font-size="16.3">U</text><text transform="matrix(1.0156 0 0 1 1064.87 98.80)" font-size="16.3">D</text><text transform="matrix(0.8681 0 0 1 1077.40 98.80)" font-size="16.3">P</text></g>
<path d="M1097.3,93.3H1111.7M1131.3,93.3H1145.3" stroke="#ff7f0e" stroke-width="2"/>
<circle cx="1121.3" cy="93.3" r="5.5" fill="#ff7f0e"/>
<g font-family='"Liberation Sans", sans-serif' fill="#000"><text transform="matrix(1.0381 0 0 1 969.11 117.90)" font-size="16.3">I</text><text transform="matrix(0.8681 0 0 1 974.23 117.90)" font-size="16.3">P</text><text transform="matrix(0.8297 0 0 1 989.11 117.90)" font-size="16.3">(</text><text transform="matrix(1.0064 0 0 1 995.75 117.90)" font-size="16.3">!</text><text transform="matrix(1.0706 0 0 1 1000.80 117.90)" font-size="16.3">T</text><text transform="matrix(0.9112 0 0 1 1011.17 117.90)" font-size="16.3">C</text><text transform="matrix(0.8681 0 0 1 1021.67 117.90)" font-size="16.3">P</text><text transform="matrix(1.0064 0 0 1 1042.03 117.90)" font-size="16.3">!</text><text transform="matrix(0.9647 0 0 1 1047.70 117.90)" font-size="16.3">U</text><text transform="matrix(1.0156 0 0 1 1059.45 117.90)" font-size="16.3">D</text><text transform="matrix(0.8681 0 0 1 1071.98 117.90)" font-size="16.3">P</text><text transform="matrix(0.8297 0 0 1 1082.43 117.90)" font-size="16.3">)</text></g>
<path d="M1097.3,112.3H1111.7M1131.3,112.3H1145.3" stroke="#2ca02c" stroke-width="2"/>
<circle cx="1121.3" cy="112.3" r="5.5" fill="#2ca02c"/>
<g font-family='"Liberation Sans", sans-serif' fill="#000"><text transform="matrix(0.9409 0 0 1 0.24 34.85)" font-size="16.3">s</text><text transform="matrix(1.3119 0 0 1 8.25 34.85)" font-size="16.3">t</text><text transform="matrix(1.0435 0 0 1 14.59 34.85)" font-size="16.3">o</text><text transform="matrix(1.2577 0 0 1 24.31 34.85)" font-size="16.3">r</text><text transform="matrix(1.0347 0 0 1 31.20 34.85)" font-size="16.3">0</text><text transform="matrix(1.1903 0 0 1 40.99 34.85)" font-size="16.3">/</text><text transform="matrix(0.9409 0 0 1 46.82 34.85)" font-size="16.3">s</text><text transform="matrix(1.0602 0 0 1 54.87 34.85)" font-size="16.3">e</text><text transform="matrix(0.8827 0 0 1 64.92 34.85)" font-size="16.3">a</text><text transform="matrix(1.2577 0 0 1 74.47 34.85)" font-size="16.3">r</text><text transform="matrix(0.9849 0 0 1 81.16 34.85)" font-size="16.3">c</text><text transform="matrix(1.0657 0 0 1 89.66 34.85)" font-size="16.3">h</text><text transform="matrix(1.0034 0 0 1 99.96 34.85)" font-size="16.3">l</text><text transform="matrix(1.0034 0 0 1 104.42 34.85)" font-size="16.3">i</text><text transform="matrix(1.0669 0 0 1 108.61 34.85)" font-size="16.3">g</text><text transform="matrix(1.0657 0 0 1 118.86 34.85)" font-size="16.3">h</text><text transform="matrix(1.3119 0 0 1 128.86 34.85)" font-size="16.3">t</text><text transform="matrix(1.1903 0 0 1 135.03 34.85)" font-size="16.3">/</text><text transform="matrix(0.9849 0 0 1 140.63 34.85)" font-size="16.3">c</text><text transform="matrix(1.0435 0 0 1 149.39 34.85)" font-size="16.3">o</text><text transform="matrix(1.2577 0 0 1 159.11 34.85)" font-size="16.3">r</text><text transform="matrix(1.0679 0 0 1 165.93 34.85)" font-size="16.3">p</text><text transform="matrix(1.0583 0 0 1 175.99 34.85)" font-size="16.3">u</text><text transform="matrix(0.9409 0 0 1 186.33 34.85)" font-size="16.3">s</text><text transform="matrix(1.1903 0 0 1 194.24 34.85)" font-size="16.3">/</text><text transform="matrix(1.0034 0 0 1 200.04 34.85)" font-size="16.3">i</text><text transform="matrix(1.0679 0 0 1 204.41 34.85)" font-size="16.3">p</text><text transform="matrix(0.9409 0 0 1 214.68 34.85)" font-size="16.3">s</text><text transform="matrix(1.0602 0 0 1 222.73 34.85)" font-size="16.3">e</text><text transform="matrix(0.9849 0 0 1 232.63 34.85)" font-size="16.3">c</text><text transform="matrix(1.1903 0 0 1 241.22 34.85)" font-size="16.3">/</text><text transform="matrix(1.0602 0 0 1 246.76 34.85)" font-size="16.3">e</text><text transform="matrix(1.0889 0 0 1 256.72 34.85)" font-size="16.3">x</text><text transform="matrix(1.0679 0 0 1 265.97 34.85)" font-size="16.3">p</text><text transform="matrix(1.0602 0 0 1 275.95 34.85)" font-size="16.3">e</text><text transform="matrix(1.2577 0 0 1 285.74 34.85)" font-size="16.3">r</text><text transform="matrix(1.0034 0 0 1 292.64 34.85)" font-size="16.3">i</text><text transform="matrix(1.1184 0 0 1 296.92 34.85)" font-size="16.3">m</text><text transform="matrix(1.0602 0 0 1 312.42 34.85)" font-size="16.3">e</text><text transform="matrix(1.0583 0 0 1 322.42 34.85)" font-size="16.3">n</text><text transform="matrix(1.3119 0 0 1 332.36 34.85)" font-size="16.3">t</text><text transform="matrix(0.9937 0 0 1 339.02 38.70)" font-size="13.04">3</text><text transform="matrix(1.1903 0 0 1 346.68 34.85)" font-size="16.3">/</text><text transform="matrix(1.0602 0 0 1 352.21 34.85)" font-size="16.3">e</text><text transform="matrix(1.3119 0 0 1 362.02 34.85)" font-size="16.3">t</text><text transform="matrix(1.0657 0 0 1 368.44 34.85)" font-size="16.3">h</text><text transform="matrix(0.9883 0 0 1 378.86 34.85)" font-size="16.3">1</text><text transform="matrix(1.0034 0 0 1 388.85 38.70)" font-size="13.04">i</text><text transform="matrix(1.0583 0 0 1 392.39 34.85)" font-size="16.3">n</text><text transform="matrix(1.3119 0 0 1 402.33 34.85)" font-size="16.3">t</text><text transform="matrix(1.0602 0 0 1 408.65 34.85)" font-size="16.3">e</text><text transform="matrix(1.2577 0 0 1 418.44 34.85)" font-size="16.3">r</text><text transform="matrix(1.2889 0 0 1 424.99 34.85)" font-size="16.3">f</text><text transform="matrix(0.8827 0 0 1 430.92 34.85)" font-size="16.3">a</text><text transform="matrix(0.9849 0 0 1 440.58 34.85)" font-size="16.3">c</text><text transform="matrix(1.0602 0 0 1 449.32 34.85)" font-size="16.3">e</text><text transform="matrix(1.1903 0 0 1 459.02 34.85)" font-size="16.3">/</text><text transform="matrix(1.0679 0 0 1 464.74 34.85)" font-size="16.3">p</text><text transform="matrix(1.3119 0 0 1 474.67 34.85)" font-size="16.3">t</text><text transform="matrix(1.0679 0 0 1 481.18 34.85)" font-size="16.3">p</text><text transform="matrix(1.1903 0 0 1 491.00 34.85)" font-size="16.3">/</text><text transform="matrix(1.0602 0 0 1 496.54 34.85)" font-size="16.3">e</text><text transform="matrix(1.0889 0 0 1 506.50 34.85)" font-size="16.3">x</text><text transform="matrix(1.0679 0 0 1 515.76 34.85)" font-size="16.3">p</text><text transform="matrix(1.0582 0 0 1 525.60 34.85)" font-size="16.3">-</text><text transform="matrix(0.8827 0 0 1 531.71 34.85)" font-size="16.3">a</text><text transform="matrix(1.0582 0 0 1 541.19 34.85)" font-size="16.3">-</text><text transform="matrix(0.9765 0 0 1 547.55 34.85)" font-size="16.3">5</text><text transform="matrix(1.0122 0 0 1 557.61 34.85)" font-size="16.3">7</text><text transform="matrix(1.0709 0 0 1 567.56 34.85)" font-size="16.3">6</text><text transform="matrix(1.0582 0 0 1 577.53 34.85)" font-size="16.3">-</text><text transform="matrix(1.0657 0 0 1 583.55 34.85)" font-size="16.3">h</text><text transform="matrix(1.3119 0 0 1 593.55 34.85)" font-size="16.3">t</text><text transform="matrix(1.1184 0 0 1 599.96 34.85)" font-size="16.3">m</text><text transform="matrix(1.0034 0 0 1 615.72 34.85)" font-size="16.3">l</text><text transform="matrix(0.9765 0 0 1 620.37 34.85)" font-size="16.3">5</text><text transform="matrix(1.0582 0 0 1 629.97 34.85)" font-size="16.3">-</text><text transform="matrix(1.0657 0 0 1 635.99 34.85)" font-size="16.3">h</text><text transform="matrix(1.3119 0 0 1 645.98 34.85)" font-size="16.3">t</text><text transform="matrix(1.3119 0 0 1 652.27 34.85)" font-size="16.3">t</text><text transform="matrix(1.0679 0 0 1 658.77 34.85)" font-size="16.3">p</text><text transform="matrix(0.9883 0 0 1 669.13 34.85)" font-size="16.3">1</text><text transform="matrix(1.1903 0 0 1 678.78 34.85)" font-size="16.3">/</text><text transform="matrix(0.9883 0 0 1 684.71 34.85)" font-size="16.3">1</text><text transform="matrix(1.0709 0 0 1 694.59 34.85)" font-size="16.3">6</text><text transform="matrix(1.0349 0 0 1 704.94 34.85)" font-size="16.3">4</text><text transform="matrix(1.0709 0 0 1 714.97 34.85)" font-size="16.3">6</text><text transform="matrix(1.0459 0 0 1 725.27 34.85)" font-size="16.3">8</text><text transform="matrix(1.0688 0 0 1 735.30 34.85)" font-size="16.3">9</text><text transform="matrix(1.0122 0 0 1 745.77 34.85)" font-size="16.3">7</text><text transform="matrix(0.9765 0 0 1 756.08 34.85)" font-size="16.3">5</text><text transform="matrix(1.0688 0 0 1 765.87 34.85)" font-size="16.3">9</text><text transform="matrix(0.9974 0 0 1 776.22 34.85)" font-size="16.3">2</text><text transform="matrix(1.0582 0 0 1 786.06 34.85)" font-size="16.3">-</text><text transform="matrix(0.9849 0 0 1 792.03 34.85)" font-size="16.3">c</text><text transform="matrix(1.0347 0 0 1 801.02 34.85)" font-size="16.3">0</text><text transform="matrix(1.0621 0 0 1 810.95 34.85)" font-size="16.3">.</text><text transform="matrix(0.9849 0 0 1 816.11 34.85)" font-size="16.3">c</text><text transform="matrix(0.9765 0 0 1 825.30 34.85)" font-size="16.3">5</text><text transform="matrix(0.9409 0 0 1 835.33 34.85)" font-size="16.3">s</text><text transform="matrix(0.9937 0 0 1 843.84 34.85)" font-size="16.3">3</text><text transform="matrix(1.0034 0 0 1 853.84 34.85)" font-size="16.3">i</text><text transform="matrix(1.0679 0 0 1 858.21 34.85)" font-size="16.3">p</text><text transform="matrix(0.9409 0 0 1 868.47 34.85)" font-size="16.3">s</text><text transform="matrix(1.0602 0 0 1 876.53 34.85)" font-size="16.3">e</text><text transform="matrix(0.9849 0 0 1 886.42 34.85)" font-size="16.3">c</text><text transform="matrix(1.0679 0 0 1 895.35 34.85)" font-size="16.3">p</text><text transform="matrix(1.3119 0 0 1 905.28 34.85)" font-size="16.3">t</text><text transform="matrix(1.0679 0 0 1 911.79 34.85)" font-size="16.3">p</text><text transform="matrix(1.0621 0 0 1 921.74 34.85)" font-size="16.3">.</text><text transform="matrix(1.0657 0 0 1 926.95 34.85)" font-size="16.3">h</text><text transform="matrix(1.0669 0 0 1 937.00 34.85)" font-size="16.3">d</text><text transform="matrix(1.0583 0 0 1 947.24 34.85)" font-size="16.3">u</text><text transform="matrix(1.1184 0 0 1 957.39 34.85)" font-size="16.3">m</text><text transform="matrix(1.0679 0 0 1 973.07 34.85)" font-size="16.3">b</text><text transform="matrix(1.0621 0 0 1 983.02 34.85)" font-size="16.3">.</text><text transform="matrix(1.0679 0 0 1 988.32 34.85)" font-size="16.3">p</text><text transform="matrix(1.0657 0 0 1 998.39 34.85)" font-size="16.3">h</text><text transform="matrix(0.8827 0 0 1 1008.63 34.85)" font-size="16.3">a</text><text transform="matrix(1.2577 0 0 1 1018.19 34.85)" font-size="16.3">r</text><text transform="matrix(1.0435 0 0 1 1024.84 34.85)" font-size="16.3">o</text><text transform="matrix(0.9409 0 0 1 1034.57 34.85)" font-size="16.3">s</text><text transform="matrix(1.0582 0 0 1 1042.49 34.85)" font-size="16.3">-</text><text transform="matrix(1.0602 0 0 1 1048.40 34.85)" font-size="16.3">e</text><text transform="matrix(1.0889 0 0 1 1058.36 34.85)" font-size="16.3">x</text><text transform="matrix(1.0679 0 0 1 1067.62 34.85)" font-size="16.3">p</text><text transform="matrix(1.0582 0 0 1 1077.46 34.85)" font-size="16.3">-</text><text transform="matrix(0.8827 0 0 1 1083.57 34.85)" font-size="16.3">a</text><text transform="matrix(1.0582 0 0 1 1093.05 34.85)" font-size="16.3">-</text><text transform="matrix(0.9765 0 0 1 1099.41 34.85)" font-size="16.3">5</text><text transform="matrix(1.0122 0 0 1 1109.47 34.85)" font-size="16.3">7</text><text transform="matrix(1.0709 0 0 1 1119.42 34.85)" font-size="16.3">6</text><text transform="matrix(1.0582 0 0 1 1129.39 34.85)" font-size="16.3">-</text><text transform="matrix(1.0657 0 0 1 1135.41 34.85)" font-size="16.3">h</text><text transform="matrix(1.3119 0 0 1 1145.41 34.85)" font-size="16.3">t</text><text transform="matrix(1.1184 0 0 1 1151.82 34.85)" font-size="16.3">m</text><text transform="matrix(1.0034 0 0 1 1167.58 34.85)" font-size="16.3">l</text><text transform="matrix(0.9765 0 0 1 1172.23 34.85)" font-size="16.3">5</text><text transform="matrix(1.0582 0 0 1 1181.83 34.85)" font-size="16.3">-</text><text transform="matrix(1.0657 0 0 1 1187.85 34.85)" font-size="16.3">h</text></g>
</svg></body></html>
